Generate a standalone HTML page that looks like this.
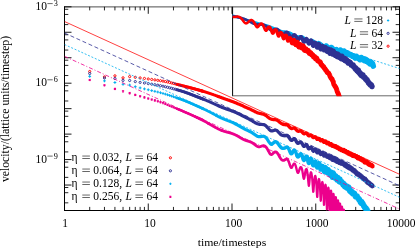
<!DOCTYPE html>
<html><head><meta charset="utf-8"><title>velocity decay</title>
<style>html,body{margin:0;padding:0;background:#fff;}svg{display:block;will-change:transform;}</style></head>
<body>
<svg width="415" height="250" viewBox="0 0 415 250">
<defs>
<clipPath id="cm"><rect x="64.5" y="6.8" width="335" height="203.7"/></clipPath>
<clipPath id="ci"><rect x="232.6" y="6.8" width="167.4" height="89.5"/></clipPath>
<clipPath id="cx"><path d="M64.5 6.8H232.6V95.8H400V211.1H64.5Z"/></clipPath>
</defs>
<rect width="415" height="250" fill="#fff"/>
<g stroke="#000" fill="none">
<path d="M64.5 6.4V211M399.5 6.4V211" stroke-width="1"/>
<path d="M64 6.9H400" stroke-width="0.7"/>
<path d="M64 210.5H400" stroke-width="1"/>
<path d="M232.6 6.8V95.8" stroke-width="1"/>
<path d="M232.1 95.8H399.5" stroke-width="0.6"/>
<path d="M148.25 210.5v-7M148.25 6.8v7M232 210.5v-7M232 6.8v7M315.75 210.5v-7M315.75 6.8v7M64.5 6.8h7M399.5 6.8h-7M64.5 32.26h7M399.5 32.26h-7M64.5 57.72h7M399.5 57.72h-7M64.5 83.19h7M399.5 83.19h-7M64.5 108.65h7M399.5 108.65h-7M64.5 134.11h7M399.5 134.11h-7M64.5 159.57h7M399.5 159.57h-7M64.5 185.04h7M399.5 185.04h-7" stroke-width="0.9"/>
<path d="M89.71 210.5v-3.6M89.71 6.8v3.6M104.46 210.5v-3.6M104.46 6.8v3.6M114.92 210.5v-3.6M114.92 6.8v3.6M123.04 210.5v-3.6M123.04 6.8v3.6M129.67 210.5v-3.6M129.67 6.8v3.6M135.28 210.5v-3.6M135.28 6.8v3.6M140.13 210.5v-3.6M140.13 6.8v3.6M144.42 210.5v-3.6M144.42 6.8v3.6M173.46 210.5v-3.6M173.46 6.8v3.6M188.21 210.5v-3.6M188.21 6.8v3.6M198.67 210.5v-3.6M198.67 6.8v3.6M206.79 210.5v-3.6M206.79 6.8v3.6M213.42 210.5v-3.6M213.42 6.8v3.6M219.03 210.5v-3.6M219.03 6.8v3.6M223.88 210.5v-3.6M223.88 6.8v3.6M228.17 210.5v-3.6M228.17 6.8v3.6M257.21 210.5v-3.6M257.21 6.8v3.6M271.96 210.5v-3.6M271.96 6.8v3.6M282.42 210.5v-3.6M282.42 6.8v3.6M290.54 210.5v-3.6M290.54 6.8v3.6M297.17 210.5v-3.6M297.17 6.8v3.6M302.78 210.5v-3.6M302.78 6.8v3.6M307.63 210.5v-3.6M307.63 6.8v3.6M311.92 210.5v-3.6M311.92 6.8v3.6M340.96 210.5v-3.6M340.96 6.8v3.6M355.71 210.5v-3.6M355.71 6.8v3.6M366.17 210.5v-3.6M366.17 6.8v3.6M374.29 210.5v-3.6M374.29 6.8v3.6M380.92 210.5v-3.6M380.92 6.8v3.6M386.53 210.5v-3.6M386.53 6.8v3.6M391.38 210.5v-3.6M391.38 6.8v3.6M395.67 210.5v-3.6M395.67 6.8v3.6M64.5 9.27h3.8M399.5 9.27h-3.8M64.5 14.46h3.8M399.5 14.46h-3.8M64.5 24.6h3.8M399.5 24.6h-3.8M64.5 34.73h3.8M399.5 34.73h-3.8M64.5 39.93h3.8M399.5 39.93h-3.8M64.5 50.06h3.8M399.5 50.06h-3.8M64.5 60.19h3.8M399.5 60.19h-3.8M64.5 65.39h3.8M399.5 65.39h-3.8M64.5 75.52h3.8M399.5 75.52h-3.8M64.5 85.66h3.8M399.5 85.66h-3.8M64.5 90.85h3.8M399.5 90.85h-3.8M64.5 100.99h3.8M399.5 100.99h-3.8M64.5 111.12h3.8M399.5 111.12h-3.8M64.5 116.31h3.8M399.5 116.31h-3.8M64.5 126.45h3.8M399.5 126.45h-3.8M64.5 136.58h3.8M399.5 136.58h-3.8M64.5 141.78h3.8M399.5 141.78h-3.8M64.5 151.91h3.8M399.5 151.91h-3.8M64.5 162.04h3.8M399.5 162.04h-3.8M64.5 167.24h3.8M399.5 167.24h-3.8M64.5 177.37h3.8M399.5 177.37h-3.8M64.5 187.51h3.8M399.5 187.51h-3.8M64.5 192.7h3.8M399.5 192.7h-3.8M64.5 202.84h3.8M399.5 202.84h-3.8" stroke-width="0.85"/>
</g>
<g clip-path="url(#cx)">
<polyline points="176.93,84.31 177.18,84.38 177.43,84.44 177.68,84.51 177.93,84.57 178.18,84.64 178.43,84.7 178.68,84.76 178.93,84.83 179.18,84.89 179.43,84.96 179.68,85.02 179.93,85.08 180.18,85.14 180.43,85.21 180.68,85.27 180.93,85.33 181.18,85.4 181.43,85.46 181.68,85.52 181.93,85.59 182.18,85.65 182.43,85.71 182.68,85.78 182.93,85.84 183.18,85.9 183.43,85.97 183.68,86.03 183.93,86.09 184.18,86.16 184.43,86.22 184.68,86.28 184.93,86.35 185.18,86.41 185.43,86.48 185.68,86.54 185.93,86.61 186.18,86.67 186.43,86.73 186.68,86.8 186.93,86.86 187.18,86.93 187.43,86.99 187.68,87.06 187.93,87.12 188.18,87.19 188.43,87.25 188.68,87.32 188.93,87.38 189.18,87.45 189.43,87.51 189.68,87.58 189.93,87.65 190.18,87.71 190.43,87.78 190.68,87.84 190.93,87.91 191.18,87.98 191.43,88.04 191.68,88.11 191.93,88.18 192.18,88.24 192.43,88.31 192.68,88.38 192.93,88.44 193.18,88.51 193.43,88.58 193.68,88.65 193.93,88.71 194.18,88.78 194.43,88.85 194.68,88.92 194.93,88.99 195.18,89.05 195.43,89.12 195.68,89.19 195.93,89.26 196.18,89.33 196.43,89.4 196.68,89.47 196.93,89.54 197.18,89.61 197.43,89.67 197.68,89.74 197.93,89.81 198.18,89.88 198.43,89.95 198.68,90.03 198.93,90.1 199.18,90.17 199.43,90.24 199.68,90.31 199.93,90.38 200.18,90.45 200.43,90.52 200.68,90.59 200.93,90.67 201.18,90.74 201.43,90.81" fill="none" stroke="#ff0000" stroke-width="2.71" stroke-linejoin="round" stroke-linecap="round" />
<polyline points="201.43,90.81 201.68,90.88 201.93,90.96 202.18,91.03 202.43,91.1 202.68,91.18 202.93,91.25 203.18,91.33 203.43,91.4 203.68,91.48 203.93,91.55 204.18,91.63 204.43,91.71 204.68,91.78 204.93,91.86 205.18,91.94 205.43,92.01 205.68,92.09 205.93,92.17 206.18,92.25 206.43,92.33 206.68,92.41 206.93,92.49 207.18,92.57 207.43,92.65 207.68,92.73 207.93,92.81 208.18,92.89 208.43,92.97 208.68,93.06 208.93,93.14 209.18,93.22 209.43,93.31 209.68,93.39 209.93,93.47 210.18,93.56 210.43,93.64 210.68,93.73 210.93,93.82 211.18,93.9 211.43,93.99 211.68,94.07 211.93,94.16 212.18,94.25 212.43,94.33 212.68,94.42 212.93,94.51 213.18,94.6 213.43,94.69 213.68,94.78 213.93,94.87 214.18,94.96 214.43,95.04 214.68,95.13 214.93,95.22 215.18,95.32 215.43,95.41 215.68,95.51 215.93,95.59 216.18,95.68 216.43,95.77 216.68,95.86 216.93,95.95 217.18,96.05 217.43,96.15 217.68,96.25 217.93,96.35 218.18,96.43" fill="none" stroke="#ff0000" stroke-width="2.96" stroke-linejoin="round" stroke-linecap="round" />
<polyline points="218.18,96.43 218.43,96.52 218.68,96.6 218.93,96.69 219.18,96.79 219.43,96.9 219.68,97 219.93,97.11 220.18,97.2 220.43,97.27 220.68,97.35 220.93,97.42 221.18,97.5 221.43,97.6 221.68,97.7 221.93,97.81 222.18,97.91 222.43,98.01 222.68,98.1 222.93,98.19 223.18,98.29 223.43,98.38 223.68,98.47 223.93,98.56 224.18,98.65 224.43,98.74 224.68,98.83 224.93,98.92 225.18,99 225.43,99.09 225.68,99.17 225.93,99.25 226.18,99.34 226.43,99.42 226.68,99.51 226.93,99.61 227.18,99.71 227.43,99.82 227.68,99.92 227.93,99.98 228.18,100.04 228.43,100.09 228.68,100.14 228.93,100.22 229.18,100.33 229.43,100.45 229.68,100.56 229.93,100.68 230.18,100.77 230.43,100.86 230.68,100.95 230.93,101.04 231.18,101.13 231.43,101.23 231.68,101.32 231.93,101.41 232.18,101.5 232.43,101.57 232.68,101.65 232.93,101.72 233.18,101.79 233.43,101.9 233.68,102.02 233.93,102.14 234.18,102.26 234.43,102.36 234.68,102.44 234.93,102.53 235.18,102.61 235.43,102.69 235.68,102.78 235.93,102.88 236.18,102.97 236.43,103.06 236.68,103.18 236.93,103.32 237.18,103.45 237.43,103.59 237.68,103.71 237.93,103.81 238.18,103.9 238.43,103.99 238.68,104.08 238.93,104.17 239.18,104.27 239.43,104.36 239.68,104.46 239.93,104.56 240.18,104.69 240.43,104.81 240.68,104.94 240.93,105.07 241.18,105.15 241.43,105.24 241.68,105.33 241.93,105.42 242.18,105.53 242.43,105.64 242.68,105.76 242.93,105.88 243.18,106 243.43,106.16 243.68,106.31 243.93,106.47 244.18,106.62 244.43,106.74 244.68,106.84 244.93,106.95 245.18,107.06 245.43,107.16 245.68,107.26 245.93,107.36 246.18,107.46 246.43,107.56 246.68,107.66 246.93,107.77 247.18,107.87 247.43,107.98 247.68,108.09 247.93,108.22 248.18,108.35 248.43,108.47 248.68,108.59 248.93,108.68 249.18,108.76 249.43,108.85 249.68,108.94 249.93,109.05 250.18,109.17 250.43,109.29 250.68,109.41 250.93,109.54 251.18,109.69 251.43,109.84 251.68,109.98 251.93,110.13 252.18,110.25 252.43,110.36 252.68,110.48 252.93,110.59 253.18,110.7 253.43,110.81 253.68,110.92 253.93,111.03 254.18,111.15 254.43,111.31 254.68,111.46 254.93,111.62 255.18,111.78 255.43,111.87 255.68,111.96 255.93,112.04 256.18,112.12 256.43,112.23 256.68,112.38 256.93,112.54 257.18,112.69 257.43,112.84 257.68,112.9 257.93,112.95 258.18,113.01 258.43,113.06 258.68,113.11 258.93,113.18 259.18,113.24 259.43,113.3 259.68,113.35 259.93,113.42 260.18,113.48 260.43,113.54 260.68,113.6 260.93,113.67 261.18,113.74 261.43,113.81 261.68,113.88 261.93,113.94 262.18,113.97 262.43,114.01 262.68,114.05 262.93,114.09 263.18,114.18 263.43,114.27 263.68,114.36 263.93,114.46 264.18,114.58 264.43,114.7 264.68,114.83 264.93,114.96 265.18,115.1 265.43,115.23 265.68,115.36 265.93,115.5 266.18,115.65 266.43,115.85 266.68,116.06 266.93,116.29 267.18,116.51 267.43,116.73 267.68,116.92 267.93,117.11 268.18,117.3 268.43,117.5 268.68,117.7 268.93,117.91 269.18,118.11 269.43,118.3 269.68,118.45 269.93,118.57 270.18,118.68 270.43,118.78 270.68,118.88 270.93,119 271.18,119.12 271.43,119.22 271.68,119.3 271.93,119.36 272.18,119.41 272.43,119.44 272.68,119.46 272.93,119.5 273.18,119.55 273.43,119.6 273.68,119.65 273.93,119.7 274.18,119.68 274.43,119.66 274.68,119.65 274.93,119.65 275.18,119.67 275.43,119.71 275.68,119.76 275.93,119.82 276.18,119.89 276.43,119.97 276.68,120.07 276.93,120.18 277.18,120.3 277.43,120.46 277.68,120.63 277.93,120.82 278.18,121.01 278.43,121.22 278.68,121.46 278.93,121.69 279.18,121.94 279.43,122.18 279.68,122.33 279.93,122.48 280.18,122.63 280.43,122.77 280.68,122.96 280.93,123.17 281.18,123.38 281.43,123.57 281.68,123.74 281.93,123.85 282.18,123.94 282.43,124.02 282.68,124.08 282.93,124.17 283.18,124.25 283.43,124.33" fill="none" stroke="#ff0000" stroke-width="3.22" stroke-linejoin="round" stroke-linecap="round" />
<polyline points="283.43,124.33 283.68,124.38 283.93,124.44 284.18,124.49 284.43,124.54 284.68,124.59 284.93,124.63 285.18,124.64 285.43,124.65 285.68,124.67 285.93,124.69 286.18,124.7 286.43,124.7 286.68,124.72 286.93,124.76 287.18,124.83 287.43,124.97 287.68,125.12 287.93,125.3 288.18,125.5 288.43,125.76 288.68,126.04 288.93,126.33 289.18,126.63 289.43,126.92 289.68,127.18 289.93,127.43 290.18,127.66 290.43,127.87 290.68,128.06 290.93,128.22 291.18,128.34 291.43,128.42 291.68,128.45 291.93,128.44 292.18,128.39 292.43,128.32 292.68,128.24 292.93,128.18 293.18,128.12 293.43,128.08 293.68,128.06 293.93,128.06 294.18,128.08 294.43,128.15 294.68,128.26 294.93,128.39 295.18,128.56 295.43,128.76 295.68,129 295.93,129.25 296.18,129.55 296.43,129.85 296.68,130.15 296.93,130.43 297.18,130.67 297.43,130.86 297.68,131.02 297.93,131.12 298.18,131.18 298.43,131.2 298.68,131.19 298.93,131.15 299.18,131.09 299.43,131 299.68,130.91 299.93,130.83 300.18,130.78 300.43,130.78 300.68,130.86 300.93,130.98 301.18,131.15 301.43,131.37 301.68,131.55 301.93,131.78 302.18,132.03 302.43,132.31 302.68,132.61 302.93,132.92 303.18,133.19 303.43,133.43 303.68,133.6 303.93,133.69 304.18,133.72 304.43,133.68 304.68,133.58 304.93,133.48 305.18,133.38 305.43,133.28 305.68,133.2 305.93,133.16 306.18,133.16 306.43,133.22 306.68,133.36 306.93,133.58 307.18,133.87 307.43,134.2 307.68,134.57 307.93,134.93 308.18,135.25 308.43,135.51 308.68,135.69 308.93,135.77 309.18,135.78 309.43,135.74 309.68,135.64 309.93,135.51 310.18,135.38 310.43,135.26 310.68,135.19 310.93,135.19 311.18,135.29 311.43,135.46 311.68,135.69 311.93,135.98 312.18,136.32 312.43,136.67 312.68,137.01 312.93,137.27 313.18,137.44 313.43,137.5 313.68,137.49 313.93,137.41 314.18,137.29 314.43,137.15 314.68,137.02 314.93,136.9 315.18,136.88 315.42,136.96 315.67,137.15 315.91,137.48 316.15,137.89 316.39,138.33 316.63,138.74 316.87,139.08 317.1,139.26 317.33,139.32 317.57,139.25 317.8,139.09 318.03,138.88 318.25,138.67 318.48,138.5 318.71,138.39 318.93,138.39 319.15,138.52 319.37,138.77 319.59,139.12 319.81,139.54 320.03,139.97 320.24,140.33 320.46,140.57 320.67,140.71 320.88,140.72 321.09,140.61 321.3,140.43 321.51,140.25 321.72,140.05 321.92,139.89 322.13,139.8 322.33,139.81 322.53,139.94 322.73,140.17 322.93,140.49 323.13,140.88 323.33,141.3" fill="none" stroke="#ff0000" stroke-width="3.47" stroke-linejoin="round" stroke-linecap="round" />
<polyline points="323.33,141.3 323.53,141.67 323.72,141.96 323.92,142.14 324.11,142.2 324.31,142.14 324.5,141.97 324.69,141.75 324.88,141.51 325.07,141.31 325.25,141.18 325.44,141.14 325.63,141.22 325.81,141.45 326,141.78 326.18,142.18 326.36,142.6 326.54,142.99 326.72,143.33 326.9,143.52 327.08,143.59 327.26,143.54 327.44,143.39 327.61,143.19 327.79,142.97 327.96,142.75 328.13,142.6 328.31,142.55 328.48,142.61 328.65,142.77 328.82,143.02 328.99,143.38 329.16,143.81 329.33,144.23 329.49,144.57 329.66,144.82 329.83,144.93 329.99,144.93 330.15,144.76 330.32,144.51 330.48,144.25 330.64,144.02 330.8,143.86 330.96,143.8 331.12,143.85 331.28,144.07 331.44,144.39 331.6,144.77 331.76,145.18 331.91,145.57 332.07,145.89 332.22,146.11 332.38,146.19 332.53,146.15 332.68,146.01 332.84,145.82 332.99,145.61 333.14,145.44 333.29,145.34 333.44,145.28 333.59,145.32 333.74,145.46 333.88,145.69 334.03,145.99 334.18,146.31 334.33,146.62 334.47,146.86 334.62,147.01 334.76,147.03 334.9,146.94 335.05,146.74 335.19,146.49 335.33,146.23 335.47,146 335.62,145.87 335.76,145.85 335.9,145.94 336.04,146.13 336.17,146.42 336.31,146.78 336.45,147.16 336.59,147.52 336.73,147.81 336.86,148 337,148.06 337.13,148 337.27,147.84 337.4,147.63 337.54,147.4 337.67,147.21 337.8,147.1 337.94,147.09 338.07,147.19 338.2,147.4 338.33,147.7 338.46,148.06 338.59,148.45 338.72,148.82 338.85,149.12 338.98,149.31 339.11,149.37 339.23,149.31 339.36,149.15 339.49,148.94 339.61,148.71 339.74,148.52 339.87,148.4 339.99,148.37 340.12,148.44 340.24,148.61 340.36,148.88 340.49,149.22 340.61,149.58 340.73,149.91 340.85,150.19 340.98,150.35 341.1,150.41 341.22,150.35 341.34,150.19 341.46,149.97 341.58,149.74 341.7,149.55 341.82,149.42 341.94,149.4 342.05,149.48 342.17,149.64 342.29,149.85 342.41,150.13 342.52,150.43 342.64,150.71 342.76,150.92 342.87,151.03 342.99,151.01 343.1,150.88" fill="none" stroke="#ff0000" stroke-width="3.72" stroke-linejoin="round" stroke-linecap="round" />
<polyline points="343.1,150.88 343.22,150.64 343.33,150.4 343.44,150.16 343.56,149.95 343.67,149.81 343.78,149.76 343.9,149.83 344.01,150 344.12,150.26 344.23,150.59 344.34,150.94 344.45,151.29 344.56,151.57 344.67,151.75 344.78,151.81 344.89,151.75 345,151.59 345.11,151.38 345.22,151.15 345.33,150.96 345.43,150.84 345.54,150.79 345.65,150.85 345.75,151.01 345.86,151.26 345.97,151.58 346.07,151.92 346.18,152.24 346.28,152.5 346.39,152.65 346.49,152.68 346.6,152.61 346.7,152.45 346.8,152.24 346.91,152.01 347.01,151.82 347.11,151.7 347.22,151.67 347.32,151.75 347.42,151.93 347.52,152.2 347.62,152.53 347.73,152.88 347.83,153.2 347.93,153.46 348.03,153.61 348.13,153.65 348.23,153.57 348.33,153.4 348.43,153.18 348.52,152.94 348.62,152.74 348.72,152.6 348.82,152.56 348.92,152.62 349.01,152.78 349.11,153.03 349.21,153.34 349.31,153.67 349.4,153.99 349.5,154.24 349.6,154.39 349.69,154.42 349.79,154.34 349.88,154.16 349.98,153.93 350.07,153.68 350.17,153.46 350.26,153.32 350.35,153.26 350.45,153.3 350.54,153.45 350.64,153.68 350.73,153.97 350.82,154.28 350.91,154.58 351.01,154.83 351.1,154.98 351.19,155.03 351.28,154.96 351.37,154.8 351.46,154.59 351.56,154.37 351.65,154.19 351.74,154.07 351.83,154.03 351.92,154.1 352.01,154.27 352.1,154.51 352.19,154.82 352.28,155.15 352.36,155.46 352.45,155.71 352.54,155.86 352.63,155.91 352.72,155.84 352.81,155.68 352.89,155.48 352.98,155.26 353.07,155.08 353.16,154.95 353.24,154.87 353.33,154.9 353.42,155.02 353.5,155.22 353.59,155.48 353.67,155.77 353.76,156.03 353.85,156.23 353.93,156.34 354.02,156.34 354.1,156.24 354.18,156.05 354.27,155.81 354.35,155.57 354.44,155.36 354.52,155.22 354.61,155.15 354.69,155.19 354.77,155.32 354.86,155.53 354.94,155.79 355.02,156.08 355.1,156.34 355.19,156.55 355.27,156.66 355.35,156.68 355.43,156.61 355.51,156.46 355.59,156.25 355.68,156.04 355.76,155.85 355.84,155.73 355.92,155.69 356,155.75 356.08,155.89 356.16,156.12 356.24,156.39 356.32,156.69 356.4,156.97 356.48,157.21 356.56,157.39 356.64,157.45 356.72,157.42 356.79,157.3 356.87,157.14 356.95,156.97 357.03,156.83 357.11,156.74 357.19,156.74" fill="none" stroke="#ff0000" stroke-width="3.97" stroke-linejoin="round" stroke-linecap="round" />
<polyline points="357.19,156.74 357.26,156.83 357.34,157.01 357.42,157.26 357.5,157.57 357.57,157.85 357.65,158.08 357.73,158.26 357.8,158.35 357.88,158.34 357.96,158.24 358.03,158.05 358.11,157.82 358.18,157.58 358.26,157.37 358.34,157.21 358.41,157.14 358.49,157.15 358.56,157.25 358.64,157.43 358.71,157.7 358.79,157.99 358.86,158.27 358.93,158.49 359.01,158.62 359.08,158.66 359.16,158.61 359.23,158.48 359.3,158.3 359.38,158.12 359.45,157.96 359.52,157.86 359.6,157.83 359.67,157.89 359.74,158.03 359.81,158.23 359.89,158.47 359.96,158.73 360.03,158.98 360.1,159.17 360.17,159.28 360.25,159.29 360.32,159.22 360.39,159.07 360.46,158.87 360.53,158.67 360.6,158.49 360.67,158.37 360.74,158.32 360.81,158.36 360.88,158.51 360.95,158.74 361.02,159.01 361.09,159.31 361.16,159.59 361.23,159.81 361.3,159.96 361.37,160.02 361.44,159.99 361.51,159.88 361.58,159.74 361.65,159.58 361.72,159.45 361.79,159.37 361.86,159.37 361.92,159.45 361.99,159.54 362.06,159.7 362.13,159.9 362.2,160.12 362.26,160.33 362.33,160.48 362.4,160.56 362.47,160.55 362.53,160.45 362.6,160.29 362.67,160.08 362.73,159.87 362.8,159.68 362.87,159.54 362.93,159.47 363,159.48 363.07,159.62 363.13,159.86 363.2,160.15 363.27,160.46 363.33,160.74 363.4,160.98 363.46,161.15 363.53,161.23 363.59,161.23 363.66,161.17 363.72,161.06 363.79,160.94 363.85,160.85 363.92,160.81 363.98,160.83 364.05,160.93 364.11,161.11 364.18,161.3 364.24,161.52 364.3,161.76 364.37,161.98 364.43,162.16 364.5,162.26 364.56,162.29 364.62,162.23 364.69,162.11 364.75,161.95 364.81,161.78 364.88,161.63 364.94,161.53 365,161.5 365.06,161.54 365.13,161.65 365.19,161.83 365.25,162.02 365.31,162.2 365.38,162.37 365.44,162.49 365.5,162.54 365.56,162.51 365.62,162.4 365.69,162.23 365.75,162.02 365.81,161.81 365.87,161.62 365.93,161.47 365.99,161.39 366.05,161.38 366.12,161.43 366.18,161.55 366.24,161.71 366.3,161.88 366.36,162.07 366.42,162.23 366.48,162.33 366.54,162.36 366.6,162.31 366.66,162.2 366.72,162.05 366.78,161.9 366.84,161.77 366.9,161.68 366.96,161.65 367.02,161.69 367.08,161.8 367.14,161.97 367.2,162.17 367.25,162.39 367.31,162.6 367.37,162.76 367.43,162.86 367.49,162.94 367.55,162.95 367.61,162.9 367.67,162.81 367.72,162.72 367.78,162.65 367.84,162.62 367.9,162.65 367.96,162.74 368.01,162.91 368.07,163.12 368.13,163.38 368.19,163.65 368.24,163.9 368.3,164.11 368.36,164.26 368.42,164.34 368.47,164.35 368.53,164.31 368.59,164.15" fill="none" stroke="#ff0000" stroke-width="4.22" stroke-linejoin="round" stroke-linecap="round" />
<polyline points="368.59,164.15 368.64,163.99 368.7,163.85 368.76,163.75 368.81,163.71 368.87,163.73 368.93,163.82 368.98,163.96 369.04,164.13 369.1,164.32 369.15,164.49 369.21,164.62 369.26,164.7 369.32,164.71 369.38,164.65 369.43,164.53 369.49,164.39 369.54,164.23 369.6,164.1 369.65,164.01 369.71,164 369.76,164.05 369.82,164.16 369.87,164.32 369.93,164.52 369.98,164.73 370.04,164.92 370.09,165.08 370.15,165.18 370.2,165.21 370.26,165.18 370.31,165.1 370.36,164.99 370.42,164.87 370.47,164.77 370.53,164.71 370.58,164.7 370.63,164.75 370.69,164.86 370.74,165.01 370.8,165.16 370.85,165.32 370.9,165.47 370.96,165.58 371.01,165.64 371.06,165.64 371.11,165.57 371.17,165.45 371.22,165.31 371.27,165.15 371.33,165.02 371.38,164.92 371.43,164.87 371.48,164.88 371.54,164.95 371.59,165.06 371.64,165.21 371.69,165.36 371.75,165.51 371.8,165.62 371.85,165.71 371.9,165.79 371.95,165.81 372.01,165.79 372.06,165.73 372.11,165.67 372.16,165.62 372.21,165.61 372.26,165.65 372.32,165.74 372.37,165.89 372.42,166.09 372.47,166.32" fill="none" stroke="#ff0000" stroke-width="4.39" stroke-linejoin="round" stroke-linecap="round" />
</g>
<g clip-path="url(#cx)">
<polyline points="176.93,89.75 177.18,89.82 177.43,89.89 177.68,89.96 177.93,90.04 178.18,90.11 178.43,90.18 178.68,90.25 178.93,90.33 179.18,90.4 179.43,90.48 179.68,90.55 179.93,90.62 180.18,90.7 180.43,90.77 180.68,90.85 180.93,90.92 181.18,91 181.43,91.07 181.68,91.15 181.93,91.23 182.18,91.3 182.43,91.38 182.68,91.45 182.93,91.53 183.18,91.61 183.43,91.69 183.68,91.77 183.93,91.85 184.18,91.93 184.43,92.02 184.68,92.1 184.93,92.18 185.18,92.27 185.43,92.35 185.68,92.44 185.93,92.53 186.18,92.61 186.43,92.7 186.68,92.79 186.93,92.88 187.18,92.97 187.43,93.06 187.68,93.15 187.93,93.24 188.18,93.33 188.43,93.42 188.68,93.52 188.93,93.61 189.18,93.7 189.43,93.8 189.68,93.89 189.93,93.99 190.18,94.08 190.43,94.18 190.68,94.27 190.93,94.37 191.18,94.46 191.43,94.56 191.68,94.66 191.93,94.75 192.18,94.85 192.43,94.95 192.68,95.05 192.93,95.14 193.18,95.24 193.43,95.34 193.68,95.44 193.93,95.54 194.18,95.63 194.43,95.73 194.68,95.83 194.93,95.93 195.18,96.03 195.43,96.13 195.68,96.22 195.93,96.32 196.18,96.42 196.43,96.52 196.68,96.62 196.93,96.71 197.18,96.81 197.43,96.91 197.68,97.01 197.93,97.1 198.18,97.2 198.43,97.3 198.68,97.39 198.93,97.49 199.18,97.59 199.43,97.68 199.68,97.78 199.93,97.87 200.18,97.97 200.43,98.06 200.68,98.16 200.93,98.25 201.18,98.35 201.43,98.45" fill="none" stroke="#2e3192" stroke-width="2.71" stroke-linejoin="round" stroke-linecap="round" />
<polyline points="201.43,98.45 201.68,98.54 201.93,98.64 202.18,98.74 202.43,98.83 202.68,98.93 202.93,99.03 203.18,99.13 203.43,99.23 203.68,99.33 203.93,99.43 204.18,99.53 204.43,99.63 204.68,99.73 204.93,99.83 205.18,99.93 205.43,100.03 205.68,100.14 205.93,100.24 206.18,100.34 206.43,100.45 206.68,100.55 206.93,100.66 207.18,100.76 207.43,100.87 207.68,100.97 207.93,101.08 208.18,101.18 208.43,101.29 208.68,101.4 208.93,101.51 209.18,101.62 209.43,101.73 209.68,101.83 209.93,101.94 210.18,102.05 210.43,102.17 210.68,102.28 210.93,102.39 211.18,102.5 211.43,102.61 211.68,102.72 211.93,102.84 212.18,102.95 212.43,103.06 212.68,103.18 212.93,103.29 213.18,103.4 213.43,103.52 213.68,103.63 213.93,103.75 214.18,103.87 214.43,103.98 214.68,104.1 214.93,104.21 215.18,104.32 215.43,104.44 215.68,104.55 215.93,104.67 216.18,104.79 216.43,104.9 216.68,105.02 216.93,105.13 217.18,105.23 217.43,105.33 217.68,105.43 217.93,105.54 218.18,105.65" fill="none" stroke="#2e3192" stroke-width="2.96" stroke-linejoin="round" stroke-linecap="round" />
<polyline points="218.18,105.65 218.43,105.76 218.68,105.88 218.93,105.99 219.18,106.11 219.43,106.23 219.68,106.35 219.93,106.47 220.18,106.58 220.43,106.67 220.68,106.77 220.93,106.86 221.18,106.95 221.43,107.07 221.68,107.18 221.93,107.3 222.18,107.41 222.43,107.51 222.68,107.6 222.93,107.69 223.18,107.78 223.43,107.87 223.68,107.96 223.93,108.05 224.18,108.13 224.43,108.22 224.68,108.32 224.93,108.42 225.18,108.52 225.43,108.62 225.68,108.72 225.93,108.83 226.18,108.93 226.43,109.03 226.68,109.13 226.93,109.2 227.18,109.26 227.43,109.33 227.68,109.39 227.93,109.48 228.18,109.57 228.43,109.67 228.68,109.76 228.93,109.85 229.18,109.92 229.43,110 229.68,110.08 229.93,110.15 230.18,110.24 230.43,110.33 230.68,110.42 230.93,110.5 231.18,110.61 231.43,110.73 231.68,110.85 231.93,110.97 232.18,111.08 232.43,111.15 232.68,111.22 232.93,111.3 233.18,111.38 233.43,111.46 233.68,111.54 233.93,111.63 234.18,111.72 234.43,111.82 234.68,111.95 234.93,112.07 235.18,112.2 235.43,112.33 235.68,112.42 235.93,112.53 236.18,112.63 236.43,112.73 236.68,112.85 236.93,112.98 237.18,113.12 237.43,113.26 237.68,113.39 237.93,113.49 238.18,113.59 238.43,113.7 238.68,113.81 238.93,113.92 239.18,114.04 239.43,114.16 239.68,114.27 239.93,114.4 240.18,114.55 240.43,114.7 240.68,114.84 240.93,114.99 241.18,115.11 241.43,115.23 241.68,115.35 241.93,115.47 242.18,115.6 242.43,115.74 242.68,115.88 242.93,116.02 243.18,116.16 243.43,116.28 243.68,116.4 243.93,116.52 244.18,116.65 244.43,116.76 244.68,116.88 244.93,117 245.18,117.11 245.43,117.24 245.68,117.37 245.93,117.5 246.18,117.63 246.43,117.76 246.68,117.89 246.93,118.02 247.18,118.15 247.43,118.29 247.68,118.4 247.93,118.51 248.18,118.62 248.43,118.72 248.68,118.84 248.93,119 249.18,119.15 249.43,119.31 249.68,119.47 249.93,119.62 250.18,119.76 250.43,119.9 250.68,120.05 250.93,120.18 251.18,120.29 251.43,120.4 251.68,120.51 251.93,120.63 252.18,120.81 252.43,120.99 252.68,121.17 252.93,121.36 253.18,121.52 253.43,121.66 253.68,121.8 253.93,121.95 254.18,122.09 254.43,122.26 254.68,122.43 254.93,122.59 255.18,122.75 255.43,122.88 255.68,123 255.93,123.12 256.18,123.23 256.43,123.34 256.68,123.45 256.93,123.55 257.18,123.64 257.43,123.73 257.68,123.81 257.93,123.89 258.18,123.96 258.43,124.02 258.68,124.09 258.93,124.17 259.18,124.24 259.43,124.31 259.68,124.36 259.93,124.35 260.18,124.33 260.43,124.32 260.68,124.29 260.93,124.32 261.18,124.37 261.43,124.41 261.68,124.45 261.93,124.48 262.18,124.49 262.43,124.5 262.68,124.52 262.93,124.55 263.18,124.57 263.43,124.59 263.68,124.63 263.93,124.68 264.18,124.76 264.43,124.86 264.68,124.97 264.93,125.1 265.18,125.25 265.43,125.46 265.68,125.68 265.93,125.92 266.18,126.17 266.43,126.41 266.68,126.67 266.93,126.94 267.18,127.22 267.43,127.48 267.68,127.72 267.93,127.97 268.18,128.22 268.43,128.46 268.68,128.77 268.93,129.08 269.18,129.37 269.43,129.65 269.68,129.91 269.93,130.14 270.18,130.36 270.43,130.54 270.68,130.7 270.93,130.79 271.18,130.86 271.43,130.89 271.68,130.9 271.93,130.9 272.18,130.88 272.43,130.84 272.68,130.78 272.93,130.72 273.18,130.65 273.43,130.59 273.68,130.52 273.93,130.46 274.18,130.34 274.43,130.22 274.68,130.13 274.93,130.05 275.18,130.04 275.43,130.09 275.68,130.16 275.93,130.25 276.18,130.36 276.43,130.45 276.68,130.57 276.93,130.71 277.18,130.87 277.43,131.07 277.68,131.3 277.93,131.54 278.18,131.8 278.43,132.06 278.68,132.33 278.93,132.61 279.18,132.88 279.43,133.16 279.68,133.45 279.93,133.73 280.18,134 280.43,134.26 280.68,134.48 280.93,134.67 281.18,134.84 281.43,135 281.68,135.13 281.93,135.21 282.18,135.27 282.43,135.32 282.68,135.35 282.93,135.44 283.18,135.54 283.43,135.63 283.68,135.7 283.93,135.73 284.18,135.71 284.43,135.68 284.68,135.65 284.93,135.6" fill="none" stroke="#2e3192" stroke-width="3.22" stroke-linejoin="round" stroke-linecap="round" />
<polyline points="284.93,135.6 285.18,135.58 285.43,135.55 285.68,135.53 285.93,135.52 286.18,135.49 286.43,135.47 286.68,135.47 286.93,135.49 287.18,135.55 287.43,135.69 287.68,135.87 287.93,136.08 288.18,136.34 288.43,136.63 288.68,136.95 288.93,137.3 289.18,137.69 289.43,138.07 289.68,138.44 289.93,138.81 290.18,139.15 290.43,139.46 290.68,139.78 290.93,140.03 291.18,140.21 291.43,140.3 291.68,140.31 291.93,140.24 292.18,140.11 292.43,139.94 292.68,139.73 292.93,139.49 293.18,139.27 293.43,139.07 293.68,138.93 293.93,138.82 294.18,138.77 294.43,138.8 294.68,138.91 294.93,139.11 295.18,139.44 295.43,139.82 295.68,140.26 295.93,140.74 296.18,141.17 296.43,141.6 296.68,142.02 296.93,142.39 297.18,142.72 297.43,142.98 297.68,143.16 297.93,143.25 298.18,143.25 298.43,143.18 298.68,143.05 298.93,142.88 299.18,142.69 299.43,142.55 299.68,142.44 299.93,142.37 300.18,142.33 300.43,142.32 300.68,142.31 300.93,142.37 301.18,142.5 301.43,142.7 301.68,142.96 301.93,143.28 302.18,143.66 302.43,144.08 302.68,144.56 302.93,145.07 303.18,145.54 303.43,145.95 303.68,146.25 303.93,146.38 304.18,146.38 304.43,146.25 304.68,146.02 304.93,145.74 305.18,145.44 305.43,145.14 305.68,144.9 305.93,144.73 306.18,144.65 306.43,144.69 306.68,144.87 306.93,145.18 307.18,145.68 307.43,146.27 307.68,146.93 307.93,147.59 308.18,148.14 308.43,148.55 308.68,148.79 308.93,148.85 309.18,148.75 309.43,148.59 309.68,148.33 309.93,148.02 310.18,147.73 310.43,147.45 310.68,147.26 310.93,147.21 311.18,147.3 311.43,147.53 311.68,147.88 311.93,148.35 312.18,148.9 312.43,149.47 312.68,150.13 312.93,150.66 313.18,151.02 313.43,151.16 313.68,151.02 313.93,150.66 314.18,150.21 314.43,149.75 314.68,149.34 314.93,149.03 315.18,148.9 315.42,148.95 315.67,149.19 315.91,149.67 316.15,150.3 316.39,150.98" fill="none" stroke="#2e3192" stroke-width="3.47" stroke-linejoin="round" stroke-linecap="round" />
<polyline points="316.39,150.98 316.63,151.65 316.87,152.2 317.1,152.58 317.33,152.72 317.57,152.61 317.8,152.32 318.03,151.92 318.25,151.5 318.48,151.16 318.71,150.95 318.93,150.91 319.15,151.02 319.37,151.28 319.59,151.71 319.81,152.26 320.03,152.87 320.24,153.49 320.46,154.01 320.67,154.33 320.88,154.4 321.09,154.23 321.3,153.9 321.51,153.5 321.72,153.08 321.92,152.75 322.13,152.55 322.33,152.52 322.53,152.56 322.73,152.79 322.93,153.18 323.13,153.7 323.33,154.28 323.53,154.89 323.72,155.45 323.92,155.81 324.11,155.93 324.31,155.82 324.5,155.52 324.69,155.06 324.88,154.58 325.07,154.17 325.25,153.9 325.44,153.79 325.63,153.88 325.81,154.12 326,154.53 326.18,155.06 326.36,155.64 326.54,156.2 326.72,156.63 326.9,157.01 327.08,157.15 327.26,157.06 327.44,156.8 327.61,156.44 327.79,156.07 327.96,155.72 328.13,155.47 328.31,155.39 328.48,155.5 328.65,155.79 328.82,156.24 328.99,156.78 329.16,157.33 329.33,157.85 329.49,158.25 329.66,158.47 329.83,158.46 329.99,158.22 330.15,157.87 330.32,157.45 330.48,157.02" fill="none" stroke="#2e3192" stroke-width="3.72" stroke-linejoin="round" stroke-linecap="round" />
<polyline points="330.48,157.02 330.64,156.65 330.8,156.42 330.96,156.34 331.12,156.45 331.28,156.78 331.44,157.27 331.6,157.87 331.76,158.51 331.91,159.13 332.07,159.64 332.22,159.97 332.38,159.96 332.53,159.73 332.68,159.33 332.84,158.85 332.99,158.36 333.14,157.93 333.29,157.63 333.44,157.54 333.59,157.65 333.74,157.93 333.88,158.35 334.03,158.89 334.18,159.46 334.33,160.02 334.47,160.45 334.62,160.68 334.76,160.7 334.9,160.51 335.05,160.17 335.19,159.74 335.33,159.31 335.47,158.94 335.62,158.75 335.76,158.74 335.9,158.9 336.04,159.23 336.17,159.7 336.31,160.26 336.45,160.88 336.59,161.46 336.73,161.85 336.86,162.03 337,162.01 337.13,161.8 337.27,161.44 337.4,160.99 337.54,160.54 337.67,160.15 337.8,159.93 337.94,159.9 338.07,160.03 338.2,160.32 338.33,160.74 338.46,161.27 338.59,161.83 338.72,162.36 338.85,162.79 338.98,163.01 339.11,163.04 339.23,162.88 339.36,162.57 339.49,162.19 339.61,161.8 339.74,161.47 339.87,161.24 339.99,161.16 340.12,161.24 340.24,161.47 340.36,161.83 340.49,162.28 340.61,162.77 340.73,163.23 340.85,163.6 340.98,163.82 341.1,163.84 341.22,163.66 341.34,163.35 341.46,162.97 341.58,162.58 341.7,162.24 341.82,162 341.94,161.89 342.05,161.94 342.17,162.14 342.29,162.48 342.41,162.91 342.52,163.38 342.64,163.82 342.76,164.17 342.87,164.38 342.99,164.41 343.1,164.28 343.22,164.01 343.33,163.73 343.44,163.44 343.56,163.2 343.67,163.06 343.78,163.05 343.9,163.19 344.01,163.46 344.12,163.85 344.23,164.32 344.34,164.82 344.45,165.2 344.56,165.49 344.67,165.65 344.78,165.63 344.89,165.46 345,165.16 345.11,164.8 345.22,164.42 345.33,164.09 345.43,163.86 345.54,163.81 345.65,163.91 345.75,164.14 345.86,164.48 345.97,164.91 346.07,165.37 346.18,165.8 346.28,166.15 346.39,166.37" fill="none" stroke="#2e3192" stroke-width="3.97" stroke-linejoin="round" stroke-linecap="round" />
<polyline points="346.39,166.37 346.49,166.43 346.6,166.37 346.7,166.2 346.8,165.96 346.91,165.72 347.01,165.52 347.11,165.41 347.22,165.42 347.32,165.56 347.42,165.83 347.52,166.21 347.62,166.67 347.73,167.05 347.83,167.39 347.93,167.66 348.03,167.79 348.13,167.78 348.23,167.62 348.33,167.34 348.43,167 348.52,166.65 348.62,166.34 348.72,166.12 348.82,166.1 348.92,166.2 349.01,166.44 349.11,166.77 349.21,167.19 349.31,167.63 349.4,168.05 349.5,168.4 349.6,168.62 349.69,168.69 349.79,168.63 349.88,168.41 349.98,168.11 350.07,167.79 350.17,167.52 350.26,167.33 350.35,167.25 350.45,167.29 350.54,167.46 350.64,167.73 350.73,168.07 350.82,168.44 350.91,168.78 351.01,169.09 351.1,169.29 351.19,169.35 351.28,169.28 351.37,169.09 351.46,168.84 351.56,168.59 351.65,168.37 351.74,168.24 351.83,168.21 351.92,168.3 352.01,168.5 352.1,168.82 352.19,169.21 352.28,169.62 352.36,170.02 352.45,170.34 352.54,170.54 352.63,170.61 352.72,170.55 352.81,170.39 352.89,170.16 352.98,169.93 353.07,169.73 353.16,169.6 353.24,169.53 353.33,169.58 353.42,169.74 353.5,169.99 353.59,170.31 353.67,170.66 353.76,170.99 353.85,171.25 353.93,171.39 354.02,171.41 354.1,171.3 354.18,171.09 354.27,170.84 354.35,170.6 354.44,170.39 354.52,170.26 354.61,170.23 354.69,170.31 354.77,170.5 354.86,170.78 354.94,171.13 355.02,171.5 355.1,171.85 355.19,172.14 355.27,172.31 355.35,172.38 355.43,172.37 355.51,172.27 355.59,172.1 355.68,171.93 355.76,171.8 355.84,171.73 355.92,171.76 356,171.9 356.08,172.15 356.16,172.48 356.24,172.88 356.32,173.3 356.4,173.7 356.48,173.98 356.56,174.13 356.64,174.15 356.72,174.06 356.79,173.88 356.87,173.64 356.95,173.39 357.03,173.17 357.11,173.03 357.19,172.97 357.26,173.02 357.34,173.18 357.42,173.42 357.5,173.72 357.57,174.03 357.65,174.33 357.73,174.56 357.8,174.69 357.88,174.71 357.96,174.62 358.03,174.43 358.11,174.19 358.18,173.94 358.26,173.73 358.34,173.58 358.41,173.52 358.49,173.56 358.56,173.7 358.64,173.93 358.71,174.26 358.79,174.61 358.86,174.95 358.93,175.21 359.01,175.39 359.08,175.45 359.16,175.41 359.23,175.28 359.3,175.09 359.38,174.9 359.45,174.74 359.52,174.64 359.6,174.63 359.67,174.72 359.74,174.9 359.81,175.12 359.89,175.4 359.96,175.7 360.03,175.98 360.1,176.2 360.17,176.33 360.25,176.35 360.32,176.27 360.39,176.11 360.46,175.89 360.53,175.67 360.6,175.48 360.67,175.35 360.74,175.3 360.81,175.35 360.88,175.51 360.95,175.76 361.02,176.06 361.09,176.39 361.16,176.69 361.23,176.94 361.3,177.1 361.37,177.15 361.44,177.11 361.51,176.99 361.58,176.81 361.65,176.63 361.72,176.48 361.79,176.39 361.86,176.38 361.92,176.46 361.99,176.62 362.06,176.86 362.13,177.15 362.2,177.46 362.26,177.75 362.33,177.99 362.4,178.14 362.47,178.19 362.53,178.15 362.6,178.02 362.67,177.86 362.73,177.68 362.8,177.53 362.87,177.44 362.93,177.43 363,177.5 363.07,177.66 363.13,177.87 363.2,178.14 363.27,178.43 363.33,178.69 363.4,178.91 363.46,179.04 363.53,179.08 363.59,179.02 363.66,178.89 363.72,178.72 363.79,178.54 363.85,178.38" fill="none" stroke="#2e3192" stroke-width="4.22" stroke-linejoin="round" stroke-linecap="round" />
<polyline points="363.85,178.38 363.92,178.28 363.98,178.26 364.05,178.32 364.11,178.46 364.18,178.65 364.24,178.89 364.3,179.14 364.37,179.37 364.43,179.56 364.5,179.66 364.56,179.68 364.62,179.6 364.69,179.46 364.75,179.27 364.81,179.07 364.88,178.9 364.94,178.78 365,178.74 365.06,178.77 365.13,178.88 365.19,179.07 365.25,179.32 365.31,179.62 365.38,179.9 365.44,180.14 365.5,180.3 365.56,180.37 365.62,180.36 365.69,180.28 365.75,180.16 365.81,180.04 365.87,179.93 365.93,179.88 365.99,179.89 366.05,179.99 366.12,180.16 366.18,180.39 366.24,180.67 366.3,180.96 366.36,181.23 366.42,181.44 366.48,181.58 366.54,181.64 366.6,181.62 366.66,181.53 366.72,181.4 366.78,181.26 366.84,181.15 366.9,181.08 366.96,181.08 367.02,181.16 367.08,181.31 367.14,181.52 367.2,181.78 367.25,182.04 367.31,182.29 367.37,182.5 367.43,182.64 367.49,182.66 367.55,182.61 367.61,182.5 367.67,182.35 367.72,182.19 367.78,182.05 367.84,181.96 367.9,181.93 367.96,181.98 368.01,182.09 368.07,182.27 368.13,182.48 368.19,182.71 368.24,182.92 368.3,183.09 368.36,183.2 368.42,183.22 368.47,183.18 368.53,183.07 368.59,182.93 368.64,182.77 368.7,182.64 368.76,182.56 368.81,182.53 368.87,182.58 368.93,182.69 368.98,182.86 369.04,183.06 369.1,183.28 369.15,183.49 369.21,183.65 369.26,183.75 369.32,183.78 369.38,183.73 369.43,183.63 369.49,183.49 369.54,183.35 369.6,183.23 369.65,183.16 369.71,183.16 369.76,183.23 369.82,183.37 369.87,183.56 369.93,183.78 369.98,184.02 370.04,184.24 370.09,184.43 370.15,184.55 370.2,184.61 370.26,184.59 370.31,184.52 370.36,184.42 370.42,184.31 370.47,184.22 370.53,184.17 370.58,184.18 370.63,184.25 370.69,184.38 370.74,184.55 370.8,184.73 370.85,184.92 370.9,185.09 370.96,185.23 371.01,185.31 371.06,185.32 371.11,185.27 371.17,185.16 371.22,185.03 371.27,184.88 371.33,184.76 371.38,184.67 371.43,184.64 371.48,184.67 371.54,184.76 371.59,184.89 371.64,185.06 371.69,185.24 371.75,185.41 371.8,185.54 371.85,185.64 371.9,185.72 371.95,185.73 372.01,185.69 372.06,185.63 372.11,185.55 372.16,185.49 372.21,185.47 372.26,185.51 372.32,185.59 372.37,185.74 372.42,185.93 372.47,186.16" fill="none" stroke="#2e3192" stroke-width="4.4" stroke-linejoin="round" stroke-linecap="round" />
</g>
<g clip-path="url(#cx)">
<polyline points="176.93,97.9 177.18,97.98 177.43,98.07 177.68,98.16 177.93,98.25 178.18,98.34 178.43,98.42 178.68,98.51 178.93,98.6 179.18,98.69 179.43,98.78 179.68,98.87 179.93,98.96 180.18,99.05 180.43,99.14 180.68,99.23 180.93,99.32 181.18,99.41 181.43,99.51 181.68,99.6 181.93,99.69 182.18,99.78 182.43,99.87 182.68,99.97 182.93,100.06 183.18,100.15 183.43,100.25 183.68,100.34 183.93,100.44 184.18,100.54 184.43,100.63 184.68,100.73 184.93,100.83 185.18,100.93 185.43,101.03 185.68,101.13 185.93,101.23 186.18,101.33 186.43,101.43 186.68,101.54 186.93,101.64 187.18,101.74 187.43,101.85 187.68,101.95 187.93,102.05 188.18,102.16 188.43,102.26 188.68,102.37 188.93,102.48 189.18,102.58 189.43,102.69 189.68,102.8 189.93,102.91 190.18,103.01 190.43,103.12 190.68,103.23 190.93,103.34 191.18,103.45 191.43,103.56 191.68,103.67 191.93,103.78 192.18,103.89 192.43,104 192.68,104.11 192.93,104.22 193.18,104.33 193.43,104.45 193.68,104.56 193.93,104.67 194.18,104.78 194.43,104.89 194.68,105.01 194.93,105.12 195.18,105.23 195.43,105.34 195.68,105.46 195.93,105.57 196.18,105.68 196.43,105.79 196.68,105.91 196.93,106.02 197.18,106.13 197.43,106.24 197.68,106.36 197.93,106.47 198.18,106.58 198.43,106.69 198.68,106.81 198.93,106.92 199.18,107.03 199.43,107.14 199.68,107.25 199.93,107.36 200.18,107.48 200.43,107.59 200.68,107.7 200.93,107.81 201.18,107.93 201.43,108.04 201.68,108.15 201.93,108.27 202.18,108.38" fill="none" stroke="#00aeef" stroke-width="2.42" stroke-linejoin="round" stroke-linecap="round" />
<polyline points="202.18,108.38 202.43,108.5 202.68,108.61 202.93,108.73 203.18,108.84 203.43,108.96 203.68,109.07 203.93,109.19 204.18,109.31 204.43,109.43 204.68,109.55 204.93,109.67 205.18,109.79 205.43,109.91 205.68,110.03 205.93,110.15 206.18,110.27 206.43,110.39 206.68,110.51 206.93,110.64 207.18,110.76 207.43,110.88 207.68,111.01 207.93,111.13 208.18,111.26 208.43,111.38 208.68,111.51 208.93,111.64 209.18,111.76 209.43,111.89 209.68,112.02 209.93,112.15 210.18,112.28 210.43,112.41 210.68,112.54 210.93,112.67 211.18,112.8 211.43,112.93 211.68,113.06 211.93,113.19 212.18,113.32 212.43,113.45 212.68,113.58 212.93,113.72 213.18,113.85 213.43,113.98 213.68,114.11 213.93,114.24 214.18,114.38 214.43,114.51 214.68,114.64 214.93,114.77 215.18,114.91 215.43,115.04 215.68,115.17 215.93,115.3 216.18,115.43 216.43,115.56" fill="none" stroke="#00aeef" stroke-width="2.67" stroke-linejoin="round" stroke-linecap="round" />
<polyline points="216.43,115.56 216.68,115.69 216.93,115.82 217.18,115.95 217.43,116.08 217.68,116.21 217.93,116.34 218.18,116.46 218.43,116.59 218.68,116.71 218.93,116.84 219.18,116.96 219.43,117.09 219.68,117.21 219.93,117.33 220.18,117.45 220.43,117.57 220.68,117.69 220.93,117.81 221.18,117.92 221.43,118.04 221.68,118.15 221.93,118.26 222.18,118.38 222.43,118.49 222.68,118.6 222.93,118.71 223.18,118.82 223.43,118.92 223.68,119.03 223.93,119.13 224.18,119.24 224.43,119.34 224.68,119.44 224.93,119.54 225.18,119.64 225.43,119.74 225.68,119.84 225.93,119.94 226.18,120.03 226.43,120.13 226.68,120.23 226.93,120.32 227.18,120.42 227.43,120.51 227.68,120.6 227.93,120.7 228.18,120.79 228.43,120.89 228.68,120.98 228.93,121.07 229.18,121.17 229.43,121.26 229.68,121.36 229.93,121.45 230.18,121.55 230.43,121.65 230.68,121.75 230.93,121.85 231.18,121.95 231.43,122.05 231.68,122.15 231.93,122.25 232.18,122.36 232.43,122.46 232.68,122.57 232.93,122.68 233.18,122.79 233.43,122.91 233.68,123.02 233.93,123.14 234.18,123.26 234.43,123.38 234.68,123.49 234.93,123.61 235.18,123.72" fill="none" stroke="#00aeef" stroke-width="2.93" stroke-linejoin="round" stroke-linecap="round" />
<polyline points="235.18,123.72 235.43,123.84 235.68,123.97 235.93,124.1 236.18,124.24 236.43,124.38 236.68,124.51 236.93,124.65 237.18,124.79 237.43,124.94 237.68,125.08 237.93,125.22 238.18,125.35 238.43,125.49 238.68,125.63 238.93,125.78 239.18,125.93 239.43,126.08 239.68,126.24 239.93,126.39 240.18,126.53 240.43,126.68 240.68,126.82 240.93,126.96 241.18,127.1 241.43,127.24 241.68,127.37 241.93,127.51 242.18,127.65 242.43,127.79 242.68,127.94 242.93,128.08 243.18,128.22 243.43,128.36 243.68,128.49 243.93,128.62 244.18,128.75 244.43,128.89 244.68,129.03 244.93,129.17 245.18,129.31 245.43,129.45 245.68,129.57 245.93,129.69 246.18,129.81 246.43,129.93 246.68,130.03 246.93,130.12 247.18,130.22 247.43,130.31 247.68,130.43 247.93,130.56 248.18,130.69 248.43,130.83 248.68,130.96 248.93,131.08 249.18,131.2 249.43,131.32 249.68,131.44 249.93,131.55 250.18,131.65 250.43,131.75 250.68,131.86 250.93,131.98 251.18,132.13 251.43,132.29 251.68,132.45 251.93,132.61 252.18,132.79 252.43,132.97 252.68,133.15 252.93,133.34 253.18,133.51 253.43,133.67 253.68,133.83 253.93,133.99 254.18,134.16 254.43,134.33 254.68,134.51 254.93,134.68 255.18,134.86 255.43,135.03 255.68,135.2 255.93,135.36 256.18,135.52 256.43,135.68 256.68,135.86 256.93,136.04 257.18,136.2 257.43,136.35 257.68,136.43 257.93,136.49 258.18,136.54 258.43,136.58 258.68,136.62 258.93,136.65 259.18,136.66 259.43,136.67 259.68,136.66 259.93,136.67 260.18,136.66 260.43,136.65 260.68,136.63 260.93,136.59 261.18,136.54 261.43,136.48 261.68,136.43 261.93,136.38 262.18,136.34 262.43,136.3 262.68,136.27 262.93,136.26 263.18,136.27 263.43,136.29 263.68,136.33 263.93,136.39 264.18,136.46 264.43,136.55 264.68,136.66 264.93,136.8 265.18,136.96 265.43,137.15 265.68,137.37 265.93,137.61 266.18,137.88 266.43,138.17 266.68,138.47 266.93,138.8 267.18,139.15 267.43,139.52 267.68,139.92 267.93,140.34 268.18,140.76 268.43,141.18 268.68,141.55 268.93,141.91 269.18,142.26 269.43,142.58 269.68,142.92 269.93,143.25 270.18,143.54 270.43,143.78 270.68,143.98 270.93,144.1 271.18,144.18 271.43,144.2 271.68,144.18" fill="none" stroke="#00aeef" stroke-width="3.18" stroke-linejoin="round" stroke-linecap="round" />
<polyline points="271.68,144.18 271.93,144.05 272.18,143.88 272.43,143.67 272.68,143.43 272.93,143.21 273.18,143.02 273.43,142.83 273.68,142.64 273.93,142.47 274.18,142.29 274.43,142.14 274.68,142.02 274.93,141.92 275.18,141.85 275.43,141.81 275.68,141.81 275.93,141.84 276.18,141.91 276.43,142.01 276.68,142.16 276.93,142.33 277.18,142.54 277.43,142.82 277.68,143.13 277.93,143.47 278.18,143.83 278.43,144.19 278.68,144.52 278.93,144.87 279.18,145.21 279.43,145.56 279.68,145.87 279.93,146.17 280.18,146.45 280.43,146.72 280.68,147.01 280.93,147.31 281.18,147.58 281.43,147.83 281.68,148.03 281.93,148.14 282.18,148.22 282.43,148.27 282.68,148.29 282.93,148.33 283.18,148.34 283.43,148.33 283.68,148.3 283.93,148.25 284.18,148.2 284.43,148.12 284.68,148.03 284.93,147.94 285.18,147.79 285.43,147.64 285.68,147.5 285.93,147.37 286.18,147.25 286.43,147.16 286.68,147.09 286.93,147.07 287.18,147.11 287.43,147.25 287.68,147.45 287.93,147.72 288.18,148.05 288.43,148.42 288.68,148.85 288.93,149.35 289.18,149.9 289.43,150.49 289.68,151.12 289.93,151.74 290.18,152.34 290.43,152.88 290.68,153.32 290.93,153.63 291.18,153.8 291.43,153.8 291.68,153.69 291.93,153.47 292.18,153.14 292.43,152.74 292.68,152.27 292.93,151.7 293.18,151.16 293.43,150.69 293.68,150.29 293.93,150.1 294.18,150.03 294.43,150.09 294.68,150.28 294.93,150.57 295.18,150.97 295.43,151.48 295.68,152.09 295.93,152.78 296.18,153.44 296.43,154.13 296.68,154.81 296.93,155.42" fill="none" stroke="#00aeef" stroke-width="3.43" stroke-linejoin="round" stroke-linecap="round" />
<polyline points="296.93,155.42 297.18,155.99 297.43,156.46 297.68,156.76 297.93,156.87 298.18,156.81 298.43,156.6 298.68,156.28 298.93,155.9 299.18,155.49 299.43,155.07 299.68,154.69 299.93,154.37 300.18,154.13 300.43,153.98 300.68,153.94 300.93,154.01 301.18,154.2 301.43,154.5 301.68,154.9 301.93,155.42 302.18,156.04 302.43,156.75 302.68,157.53 302.93,158.33 303.18,159.1 303.43,159.77 303.68,160.23 303.93,160.37 304.18,160.22 304.43,159.81 304.68,159.18 304.93,158.58 305.18,157.98 305.43,157.42 305.68,156.96 305.93,156.6 306.18,156.34 306.43,156.3 306.68,156.49 306.93,156.92 307.18,157.6" fill="none" stroke="#00aeef" stroke-width="3.68" stroke-linejoin="round" stroke-linecap="round" />
<polyline points="307.18,157.6 307.43,158.47 307.68,159.49 307.93,160.57 308.18,161.64 308.43,162.54 308.68,163.1 308.93,163.24 309.18,162.93 309.43,162.18 309.68,161.27 309.93,160.32 310.18,159.47 310.43,158.9 310.68,158.58 310.93,158.51 311.18,158.7 311.43,159.14 311.68,159.82 311.93,160.71 312.18,161.74 312.43,162.83 312.68,163.88" fill="none" stroke="#00aeef" stroke-width="3.94" stroke-linejoin="round" stroke-linecap="round" />
<polyline points="312.68,163.88 312.93,164.73 313.18,165.25 313.43,165.36 313.68,165.03 313.93,164.37 314.18,163.55 314.43,162.73 314.68,162.02 314.93,161.51 315.18,161.29 315.42,161.38 315.67,161.8 315.91,162.55 316.15,163.56 316.39,164.76 316.63,165.98 316.87,167.01 317.1,167.58 317.33,167.61 317.57,167.11 317.8,166.23" fill="none" stroke="#00aeef" stroke-width="4.19" stroke-linejoin="round" stroke-linecap="round" />
<polyline points="317.8,166.23 318.03,165.24 318.25,164.36 318.48,163.67 318.71,163.26 318.93,163.17 319.15,163.45 319.37,164.08 319.59,164.98 319.81,166.1 320.03,167.33 320.24,168.4 320.46,169.16 320.67,169.53 320.88,169.45 321.09,168.95 321.3,168.22 321.51,167.5 321.72,166.81 321.92,166.27 322.13,165.94 322.33,165.89 322.53,166.01 322.73,166.41 322.93,167.08 323.13,167.96" fill="none" stroke="#00aeef" stroke-width="4.45" stroke-linejoin="round" stroke-linecap="round" />
<polyline points="323.13,167.96 323.33,168.99 323.53,170.05 323.72,170.98 323.92,171.58 324.11,171.74 324.31,171.44 324.5,170.8 324.69,169.86 324.88,168.89 325.07,168.08 325.25,167.5 325.44,167.21 325.63,167.24 325.81,167.7 326,168.44 326.18,169.4 326.36,170.47 326.54,171.52 326.72,172.35 326.9,172.9 327.08,173 327.26,172.68 327.44,172.08 327.61,171.37 327.79,170.71 327.96,170.07 328.13,169.6 328.31,169.4 328.48,169.48 328.65,169.81 328.82,170.39 328.99,171.22 329.16,172.27 329.33,173.31 329.49,174.19 329.66,174.77 329.83,174.97 329.99,174.8 330.15,174.25 330.32,173.53 330.48,172.8 330.64,172.18 330.8,171.77 330.96,171.6 331.12,171.72 331.28,172.2" fill="none" stroke="#00aeef" stroke-width="4.7" stroke-linejoin="round" stroke-linecap="round" />
<polyline points="331.28,172.2 331.44,172.93 331.6,173.88 331.76,174.95 331.91,176 332.07,176.89 332.22,177.44 332.38,177.35 332.53,176.84 332.68,176.05 332.84,175.14 332.99,174.25 333.14,173.52 333.29,173 333.44,172.89 333.59,173.1 333.74,173.57 333.88,174.26 334.03,175.12 334.18,176.05 334.33,176.94 334.47,177.67 334.62,178.13 334.76,178.24 334.9,178.04 335.05,177.59 335.19,177.03 335.33,176.48 335.47,176.04 335.62,175.72 335.76,175.6 335.9,175.71 336.04,176.07 336.17,176.64 336.31,177.39 336.45,178.23 336.59,179.06 336.73,179.73 336.86,180.13 337,180.19 337.13,179.91 337.27,179.38 337.4,178.71 337.54,178.05 337.67,177.5 337.8,177.19 337.94,177.17 338.07,177.39 338.2,177.86 338.33,178.53 338.46,179.35 338.59,180.24 338.72,181.09 338.85,181.75 338.98,182.01 339.11,181.96 339.23,181.63 339.36,181.1 339.49,180.48 339.61,179.87 339.74,179.36 339.87,179.02 339.99,178.9 340.12,179.01 340.24,179.33 340.36,179.82 340.49,180.45 340.61,181.14 340.73,181.81 340.85,182.35 340.98,182.68 341.1,182.83 341.22,182.78 341.34,182.52 341.46,182.14 341.58,181.75 341.7,181.44 341.82,181.27 341.94,181.3 342.05,181.53 342.17,181.92 342.29,182.41 342.41,183.04 342.52,183.74 342.64,184.4 342.76,184.93 342.87,185.23 342.99,185.27 343.1,185.05 343.22,184.65 343.33,184.2 343.44,183.77 343.56,183.43 343.67,183.24 343.78,183.22 343.9,183.4 344.01,183.75 344.12,184.26" fill="none" stroke="#00aeef" stroke-width="4.95" stroke-linejoin="round" stroke-linecap="round" />
<polyline points="344.12,184.26 344.23,184.87 344.34,185.53 344.45,186.13 344.56,186.61 344.67,186.91 344.78,186.99 344.89,186.86 345,186.57 345.11,186.19 345.22,185.79 345.33,185.47 345.43,185.25 345.54,185.13 345.65,185.19 345.75,185.41 345.86,185.8 345.97,186.29 346.07,186.85 346.18,187.38 346.28,187.81 346.39,188.06 346.49,188.09 346.6,187.93 346.7,187.61 346.8,187.21 346.91,186.8 347.01,186.46 347.11,186.25 347.22,186.19 347.32,186.31 347.42,186.6 347.52,187.03 347.62,187.55 347.73,188.04 347.83,188.48 347.93,188.81 348.03,188.98 348.13,188.94 348.23,188.73 348.33,188.38 348.43,187.95 348.52,187.52 348.62,187.16 348.72,186.89 348.82,186.99 348.92,187.25 349.01,187.66 349.11,188.2 349.21,188.83 349.31,189.51 349.4,190.17 349.5,190.73 349.6,191.15 349.69,191.39 349.79,191.44 349.88,191.25 349.98,190.9 350.07,190.53 350.17,190.21 350.26,189.99 350.35,189.92 350.45,190 350.54,190.24 350.64,190.61 350.73,191.07 350.82,191.58 350.91,192.05 351.01,192.44 351.1,192.67 351.19,192.71 351.28,192.59 351.37,192.33 351.46,192 351.56,191.67 351.65,191.4 351.74,191.23 351.83,191.2 351.92,191.3 352.01,191.54 352.1,191.91 352.19,192.36 352.28,192.84 352.36,193.3 352.45,193.67 352.54,193.91 352.63,193.98 352.72,193.9 352.81,193.68 352.89,193.4 352.98,193.09 353.07,192.84 353.16,192.64 353.24,192.5 353.33,192.49 353.42,192.63 353.5,192.89 353.59,193.24 353.67,193.62 353.76,193.99 353.85,194.27 353.93,194.41 354.02,194.38 354.1,194.19 354.18,193.87 354.27,193.58 354.35,193.39 354.44,193.25 354.52,193.2 354.61,193.28 354.69,193.49 354.77,193.84 354.86,194.3 354.94,194.83 355.02,195.39 355.1,195.92 355.19,196.37 355.27,196.69 355.35,196.81 355.43,196.66 355.51,196.41 355.59,196.08 355.68,195.75 355.76,195.47 355.84,195.26 355.92,195.17 356,195.21 356.08,195.36 356.16,195.63 356.24,195.98 356.32,196.36 356.4,196.72 356.48,197.03 356.56,197.24 356.64,197.29 356.72,197.2 356.79,196.99 356.87,196.71 356.95,196.42 357.03,196.18 357.11,196.01 357.19,195.97 357.26,196.05 357.34,196.26 357.42,196.57 357.5,196.96 357.57,197.41 357.65,197.87 357.73,198.25 357.8,198.5 357.88,198.61 357.96,198.58 358.03,198.44 358.11,198.25 358.18,198.05 358.26,197.89 358.34,197.81 358.41,197.84 358.49,197.99 358.56,198.25 358.64,198.61 358.71,198.98 358.79,199.39 358.86,199.77 358.93,200.08 359.01,200.28 359.08,200.34 359.16,200.27 359.23,200.1 359.3,199.86 359.38,199.61 359.45,199.4 359.52,199.26 359.6,199.23 359.67,199.31 359.74,199.53 359.81,199.94 359.89,200.41 359.96,200.91 360.03,201.39 360.1,201.79 360.17,202.08 360.25,202.24 360.32,202.27 360.39,202.19 360.46,202.05 360.53,201.91 360.6,201.81 360.67,201.78 360.74,201.86 360.81,202.05 360.88,202.19 360.95,202.39 361.02,202.65 361.09,202.94 361.16,203.2 361.23,203.39 361.3,203.48 361.37,203.44" fill="none" stroke="#00aeef" stroke-width="5.2" stroke-linejoin="round" stroke-linecap="round" />
<polyline points="361.37,203.44 361.44,203.29 361.51,203.03 361.58,202.72 361.65,202.4 361.72,202.11 361.79,201.89 361.86,201.77 361.92,201.76 361.99,201.98 362.06,202.3 362.13,202.68 362.2,203.1 362.26,203.49 362.33,203.81 362.4,204.04 362.47,204.13 362.53,204.11 362.6,203.99 362.67,203.81 362.73,203.62 362.8,203.47 362.87,203.38 362.93,203.4 363,203.52 363.07,203.76 363.13,204.09 363.2,204.48 363.27,204.9 363.33,205.29 363.4,205.62 363.46,205.84 363.53,205.95 363.59,205.93 363.66,205.83 363.72,205.68 363.79,205.51 363.85,205.38 363.92,205.32 363.98,205.35 364.05,205.48 364.11,205.71 364.18,206.02 364.24,206.38 364.3,206.76 364.37,207.12 364.43,207.42 364.5,207.62 364.56,207.71 364.62,207.68 364.69,207.57 364.75,207.39 364.81,207.21 364.88,207.06 364.94,206.97 365,206.98 365.06,207.08 365.13,207.29 365.19,207.59 365.25,207.93 365.31,208.27 365.38,208.58 365.44,208.84 365.5,208.99 365.56,209.03 365.62,208.96 365.69,208.8 365.75,208.59 365.81,208.37 365.87,208.19 365.93,208.06 365.99,208.03 366.05,208.1 366.12,208.27 366.18,208.52 366.24,208.82 366.3,209.15 366.36,209.47 366.42,209.74 366.48,209.92 366.54,209.99 366.6,209.96 366.66,209.83 366.72,209.66 366.78,209.47 366.84,209.31 366.9,209.22 366.96,209.21 367.02,209.3 367.08,209.49 367.14,209.76 367.2,210.09 367.25,210.44 367.31,210.78 367.37,211.05 367.43,211.23 367.49,211.39 367.55,211.44 367.61,211.4 367.67,211.32 367.72,211.22 367.78,211.15 367.84,211.15 367.9,211.23 367.96,211.41 368.01,211.68 368.07,212.04 368.13,212.45 368.19,212.88 368.24,213.29 368.3,213.65 368.36,213.91 368.42,214.06 368.47,214.11 368.53,214.07 368.59,213.88 368.64,213.67 368.7,213.5 368.76,213.39 368.81,213.36 368.87,213.42 368.93,213.59 368.98,213.83 369.04,214.12 369.1,214.44 369.15,214.74 369.21,214.98 369.26,215.14 369.32,215.18 369.38,215.12 369.43,214.98 369.49,214.79 369.54,214.59 369.6,214.41 369.65,214.31 369.71,214.31 369.76,214.41 369.82,214.6 369.87,214.87 369.93,215.19 369.98,215.54 370.04,215.86 370.09,216.13 370.15,216.31 370.2,216.39 370.26,216.36 370.31,216.24 370.36,216.08 370.42,215.91 370.47,215.77 370.53,215.68 370.58,215.68 370.63,215.78 370.69,215.97 370.74,216.25 370.8,216.62 370.85,217.02 370.9,217.4 370.96,217.72 371.01,217.95 371.06,218.08 371.11,218.1 371.17,218.04 371.22,217.94 371.27,217.82 371.33,217.73 371.38,217.7 371.43,217.75 371.48,217.9 371.54,218.14 371.59,218.46 371.64,218.83 371.69,219.22 371.75,219.6 371.8,219.92 371.85,220.1 371.9,220.13 371.95,220.05 372.01,219.89 372.06,219.68 372.11,219.46 372.16,219.26 372.21,219.13 372.26,219.08 372.32,219.13 372.37,219.27 372.42,219.48 372.47,219.75" fill="none" stroke="#00aeef" stroke-width="5.36" stroke-linejoin="round" stroke-linecap="round" />
</g>
<g clip-path="url(#cx)">
<polyline points="176.93,108.71 177.18,108.82 177.43,108.92 177.68,109.03 177.93,109.13 178.18,109.24 178.43,109.34 178.68,109.45 178.93,109.55 179.18,109.66 179.43,109.76 179.68,109.87 179.93,109.97 180.18,110.07 180.43,110.18 180.68,110.28 180.93,110.39 181.18,110.49 181.43,110.6 181.68,110.7 181.93,110.81 182.18,110.92 182.43,111.02 182.68,111.13 182.93,111.24 183.18,111.34 183.43,111.45 183.68,111.56 183.93,111.66 184.18,111.77 184.43,111.88 184.68,111.99 184.93,112.1 185.18,112.21 185.43,112.31 185.68,112.42 185.93,112.53 186.18,112.64 186.43,112.75 186.68,112.86 186.93,112.97 187.18,113.08 187.43,113.19 187.68,113.3 187.93,113.42 188.18,113.53 188.43,113.64 188.68,113.75 188.93,113.86 189.18,113.97 189.43,114.09 189.68,114.2 189.93,114.31 190.18,114.42 190.43,114.54 190.68,114.65 190.93,114.77 191.18,114.88 191.43,114.99 191.68,115.11 191.93,115.22 192.18,115.34 192.43,115.45 192.68,115.57 192.93,115.68 193.18,115.8 193.43,115.91 193.68,116.03 193.93,116.15 194.18,116.26 194.43,116.38 194.68,116.5 194.93,116.61 195.18,116.73 195.43,116.85 195.68,116.97 195.93,117.09 196.18,117.2 196.43,117.32 196.68,117.44" fill="none" stroke="#ec008c" stroke-width="2.31" stroke-linejoin="round" stroke-linecap="round" />
<polyline points="196.68,117.44 196.93,117.56 197.18,117.68 197.43,117.8 197.68,117.92 197.93,118.04 198.18,118.16 198.43,118.28 198.68,118.4 198.93,118.52 199.18,118.64 199.43,118.76 199.68,118.88 199.93,119 200.18,119.12 200.43,119.25 200.68,119.37 200.93,119.49 201.18,119.62 201.43,119.74 201.68,119.87 201.93,119.99 202.18,120.12 202.43,120.24 202.68,120.37 202.93,120.5 203.18,120.63 203.43,120.76 203.68,120.89 203.93,121.02 204.18,121.15 204.43,121.28 204.68,121.41 204.93,121.54 205.18,121.68 205.43,121.81 205.68,121.95 205.93,122.08 206.18,122.22 206.43,122.35 206.68,122.49 206.93,122.63 207.18,122.76 207.43,122.9 207.68,123.04 207.93,123.18" fill="none" stroke="#ec008c" stroke-width="2.57" stroke-linejoin="round" stroke-linecap="round" />
<polyline points="207.93,123.18 208.18,123.32 208.43,123.46 208.68,123.6 208.93,123.74 209.18,123.88 209.43,124.02 209.68,124.17 209.93,124.31 210.18,124.45 210.43,124.59 210.68,124.74 210.93,124.88 211.18,125.02 211.43,125.16 211.68,125.31 211.93,125.45 212.18,125.59 212.43,125.74 212.68,125.88 212.93,126.02 213.18,126.16 213.43,126.31 213.68,126.45 213.93,126.59 214.18,126.73 214.43,126.87 214.68,127.01 214.93,127.15 215.18,127.28 215.43,127.42 215.68,127.56 215.93,127.69 216.18,127.83 216.43,127.96 216.68,128.09 216.93,128.22 217.18,128.35 217.43,128.48 217.68,128.61 217.93,128.73 218.18,128.86 218.43,128.98 218.68,129.1 218.93,129.22 219.18,129.34 219.43,129.45 219.68,129.57 219.93,129.68 220.18,129.79 220.43,129.9 220.68,130 220.93,130.11 221.18,130.21 221.43,130.31 221.68,130.41" fill="none" stroke="#ec008c" stroke-width="2.82" stroke-linejoin="round" stroke-linecap="round" />
<polyline points="221.68,130.41 221.93,130.5 222.18,130.6 222.43,130.69 222.68,130.78 222.93,130.87 223.18,130.96 223.43,131.04 223.68,131.13 223.93,131.21 224.18,131.29 224.43,131.37 224.68,131.44 224.93,131.52 225.18,131.59 225.43,131.67 225.68,131.74 225.93,131.81 226.18,131.88 226.43,131.95 226.68,132.02 226.93,132.08 227.18,132.15 227.43,132.22 227.68,132.29 227.93,132.35 228.18,132.42 228.43,132.49 228.68,132.56 228.93,132.62 229.18,132.69 229.43,132.76 229.68,132.83 229.93,132.9 230.18,132.97 230.43,133.05 230.68,133.12 230.93,133.2 231.18,133.28 231.43,133.36 231.68,133.44 231.93,133.52 232.18,133.61 232.43,133.69 232.68,133.78 232.93,133.87 233.18,133.97 233.43,134.06 233.68,134.16 233.93,134.26 234.18,134.37 234.43,134.47 234.68,134.58 234.93,134.69 235.18,134.81 235.43,134.93 235.68,135.05 235.93,135.17 236.18,135.29 236.43,135.42 236.68,135.55 236.93,135.68 237.18,135.82 237.43,135.96 237.68,136.1 237.93,136.24 238.18,136.38 238.43,136.53 238.68,136.67 238.93,136.82 239.18,136.97 239.43,137.12 239.68,137.27 239.93,137.42 240.18,137.58 240.43,137.73 240.68,137.88 240.93,138.03 241.18,138.18 241.43,138.33 241.68,138.47 241.93,138.62 242.18,138.76 242.43,138.9 242.68,139.04 242.93,139.17 243.18,139.3 243.43,139.43 243.68,139.55 243.93,139.67 244.18,139.79 244.43,139.9 244.68,140.01 244.93,140.11 245.18,140.21 245.43,140.31 245.68,140.4 245.93,140.49 246.18,140.57 246.43,140.65 246.68,140.73 246.93,140.81 247.18,140.89 247.43,140.96 247.68,141.03 247.93,141.11 248.18,141.18 248.43,141.25 248.68,141.33 248.93,141.4 249.18,141.48 249.43,141.56 249.68,141.65 249.93,141.74 250.18,141.83 250.43,141.93 250.68,142.03 250.93,142.14 251.18,142.26 251.43,142.38 251.68,142.5 251.93,142.64 252.18,142.78 252.43,142.93 252.68,143.08 252.93,143.25 253.18,143.41 253.43,143.59 253.68,143.77 253.93,143.95 254.18,144.14 254.43,144.34 254.68,144.53 254.93,144.73 255.18,144.93 255.43,145.12 255.68,145.32 255.93,145.5 256.18,145.69 256.43,145.86 256.68,146.02 256.93,146.18 257.18,146.32 257.43,146.44 257.68,146.55 257.93,146.64 258.18,146.72 258.43,146.77 258.68,146.81 258.93,146.83 259.18,146.83 259.43,146.81 259.68,146.77 259.93,146.72 260.18,146.66 260.43,146.58 260.68,146.5 260.93,146.4 261.18,146.31 261.43,146.21 261.68,146.12 261.93,146.03 262.18,145.95 262.43,145.87 262.68,145.81 262.93,145.77 263.18,145.74 263.43,145.72 263.68,145.73 263.93,145.76 264.18,145.82 264.43,145.9 264.68,146.01 264.93,146.15 265.18,146.31 265.43,146.51 265.68,146.73 265.93,146.99 266.18,147.28 266.43,147.59 266.68,147.94 266.93,148.31 267.18,148.71 267.43,149.13 267.68,149.58 267.93,150.04 268.18,150.51 268.43,150.99 268.68,151.47 268.93,151.94 269.18,152.4 269.43,152.84 269.68,153.24 269.93,153.61 270.18,153.92 270.43,154.18 270.68,154.37 270.93,154.5 271.18,154.56 271.43,154.56 271.68,154.5 271.93,154.39 272.18,154.23 272.43,154.03 272.68,153.81 272.93,153.56 273.18,153.31 273.43,153.06 273.68,152.83 273.93,152.6 274.18,152.4 274.43,152.23 274.68,152.09 274.93,151.98 275.18,151.92 275.43,151.89 275.68,151.91 275.93,151.97 276.18,152.07 276.43,152.22 276.68,152.41 276.93,152.64 277.18,152.91 277.43,153.21 277.68,153.55 277.93,153.92 278.18,154.31 278.43,154.73 278.68,155.16 278.93,155.6 279.18,156.04 279.43,156.49 279.68,156.93 279.93,157.36 280.18,157.77 280.43,158.16 280.68,158.53 280.93,158.87 281.18,159.18 281.43,159.45 281.68,159.69 281.93,159.9 282.18,160.07 282.43,160.2 282.68,160.3 282.93,160.36 283.18,160.38 283.43,160.38 283.68,160.34 283.93,160.27 284.18,160.18 284.43,160.07 284.68,159.94" fill="none" stroke="#ec008c" stroke-width="2.82" stroke-linejoin="round" stroke-linecap="round" />
<polyline points="284.68,159.94 284.93,159.8 285.18,159.66 285.43,159.52 285.68,159.39 285.93,159.28 286.18,159.2 286.43,159.16 286.68,159.16 286.93,159.21 287.18,159.32 287.43,159.5 287.68,159.75 287.93,160.08 288.18,160.48 288.43,160.97 288.68,161.54 288.93,162.18 289.18,162.88 289.43,163.64 289.68,164.43 289.93,165.23" fill="none" stroke="#ec008c" stroke-width="2.57" stroke-linejoin="round" stroke-linecap="round" />
<polyline points="289.93,165.23 290.18,165.99 290.43,166.69 290.68,167.27 290.93,167.69 291.18,167.92 291.43,167.94 291.68,167.76 291.93,167.42 292.18,166.94 292.43,166.38 292.68,165.79 292.93,165.21 293.18,164.69 293.43,164.24 293.68,163.89 293.93,163.66 294.18,163.55 294.43,163.58 294.68,163.76 294.93,164.07 295.18,164.53 295.43,165.13 295.68,165.85 295.93,166.7 296.18,167.64 296.43,168.64 296.68,169.66 296.93,170.66 297.18,171.55 297.43,172.26 297.68,172.74 297.93,172.93 298.18,172.83 298.43,172.46 298.68,171.88 298.93,171.16 299.18,170.39 299.43,169.61 299.68,168.89 299.93,168.25 300.18,167.74 300.43,167.37 300.68,167.15 300.93,167.12 301.18,167.28 301.43,167.64 301.68,168.23 301.93,169.04 302.18,170.08 302.43,171.35 302.68,172.81 302.93,174.41 303.18,176.03 303.43,177.46 303.68,178.46 303.93,178.78 304.18,178.34 304.43,177.26 304.68,175.78 304.93,174.16 305.18,172.61 305.43,171.26 305.68,170.19 305.93,169.44 306.18,169.04 306.43,169.02 306.68,169.39 306.93,170.17 307.18,171.39 307.43,173.06 307.68,175.2" fill="none" stroke="#ec008c" stroke-width="2.32" stroke-linejoin="round" stroke-linecap="round" />
<polyline points="307.68,175.2 307.93,177.78 308.18,180.65 308.43,183.45 308.68,185.46 308.93,185.86 309.18,184.51 309.43,182.11 309.68,179.45 309.93,177.02 310.18,175.04 310.43,173.56 310.68,172.62 310.93,172.21 311.18,172.34 311.43,173.02 311.68,174.28 311.93,176.16 312.18,178.7 312.43,181.91 312.68,185.68 312.93,189.48 313.18,191.96 313.43,191.62 313.68,188.81 313.93,185.22 314.18,181.91 314.43,179.28 314.68,177.39 314.93,176.22 315.18,175.78 315.42,176.03 315.67,177 315.91,178.71 316.15,181.22 316.39,184.6 316.63,188.83 316.87,193.49 317.1,197 317.33,196.9 317.57,193.45 317.8,189.16 318.03,185.41 318.25,182.53 318.48,180.52 318.71,179.32 318.93,178.87 319.15,179.15 319.37,180.16 319.59,181.93 319.81,184.53 320.03,188.03 320.24,192.4 320.46,197.23 320.67,200.8 320.88,200.5 321.09,196.79 321.3,192.36 321.51,188.55 321.72,185.64 321.92,183.6 322.13,182.37 322.33,181.9 322.53,182.14 322.73,183.12 322.93,184.87 323.13,187.47 323.33,191.01 323.53,195.54 323.72,200.73 323.92,204.86 324.11,204.72 324.31,200.62 324.5,195.78 324.69,191.69 324.88,188.6 325.07,186.46 325.25,185.16 325.44,184.66 325.63,184.9 325.81,185.92 326,187.74 326.18,190.45 326.36,194.18 326.54,199.04 326.72,204.75 326.9,209.38 327.08,208.96 327.26,204.18 327.44,198.93 327.61,194.66 327.79,191.5 327.96,189.34 328.13,188.04 328.31,187.55 328.48,187.82 328.65,188.86 328.82,190.72 328.99,193.51 329.16,197.39 329.33,202.55 329.49,208.9 329.66,214.55 329.83,214.25 329.99,208.63 330.15,202.75 330.32,198.13 330.48,194.77 330.64,192.49 330.8,191.13 330.96,190.6 331.12,190.87 331.28,191.95 331.44,193.9 331.6,196.86 331.76,201.06 331.91,206.88 332.07,214.77 332.22,223.17 332.38,222.56 332.53,214.27 332.68,207.04 332.84,201.84 332.99,198.21 333.14,195.8 333.29,194.39 333.44,193.85 333.59,194.15 333.74,195.29 333.88,197.36 334.03,200.53 334.18,205.15 334.33,211.93 334.47,222.65 334.62,242.37 334.76,239.42 334.9,221.58 335.05,211.92 335.19,205.86 335.33,201.84 335.47,199.23 335.62,197.7 335.76,197.11 335.9,197.39 336.04,198.56 336.17,200.73 336.31,204.12 336.45,209.24 336.59,217.45 336.73,235.79 336.86,233.99 337,235.25 337.13,233.31 337.27,217.39 337.4,209.96 337.54,205.42 337.67,202.56 337.8,200.91 337.94,200.27 338.07,200.56 338.2,201.81 338.33,204.15 338.46,207.89 338.59,213.81 338.72,224.76 338.85,240.66 338.98,226.4 339.11,227.1 339.23,248.41 339.36,223.93 339.49,214.31 339.61,209.1 339.74,205.95 339.87,204.16 339.99,203.46 340.12,203.76 340.24,205.07 340.36,207.56 340.49,211.63 340.61,218.42 340.73,233.84 340.85,231.66 340.98,224.49 341.1,225.03 341.22,234.38 341.34,231.57 341.46,218.65 341.58,212.68 341.7,209.23 341.82,207.31 341.94,206.55 342.05,206.84 342.17,208.2 342.29,210.81 342.41,215.18 342.52,222.83 342.64,246.45 342.76,229.97 342.87,224.73 342.99,225.29 343.1,232.37 343.22,239.4 343.33,222.54 343.44,215.98 343.56,212.31 343.67,210.28 343.78,209.48 343.9,209.76 344.01,211.14 344.12,213.82 344.23,218.36 344.34,226.6 344.45,269.21 344.56,230.69 344.67,226.16 344.78,226.73 344.89,233.02 345,246.45 345.11,225.89 345.22,218.97 345.33,215.2 345.43,213.15 345.54,212.37 345.65,212.7 345.75,214.14 345.86,216.92 345.97,221.61 346.07,230.24 346.18,267.07 346.28,232.97 346.39,228.78 346.49,229.38 346.6,235.35 346.7,253.44 346.8,229.72 346.91,222.6 347.01,218.78 347.11,216.73 347.22,215.96 347.32,216.3 347.42,217.78 347.52,220.61 347.62,225.42 347.73,234.37 347.83,261.23 347.93,235.93 348.03,231.98 348.13,232.6 348.23,238.32 348.33,261.32 348.43,233.82 348.52,226.51 348.62,222.65 348.72,220.59 348.82,219.82 348.92,220.18 349.01,221.69 349.11,224.56 349.21,229.45 349.31,238.67 349.4,260.93 349.5,239.32 349.6,235.53 349.69,236.15 349.79,241.66 349.88,271.3 349.98,238.15 350.07,230.67 350.17,226.76 350.26,224.69 350.35,223.93 350.45,224.3 350.54,225.84 350.64,228.75 350.73,233.73 350.82,243.2 350.91,262.31 351.01,243.03 351.1,239.39 351.19,240.02 351.28,245.39 351.37,284.72 351.46,242.66 351.56,235.03 351.65,231.09 351.74,229.02 351.83,228.27 351.92,228.66 352.01,230.21 352.1,233.17 352.19,238.21 352.28,247.9 352.36,264.92 352.45,247.08 352.54,243.55 352.63,244.19 352.72,249.44 352.81,312.4 352.89,247.36 352.98,239.61 353.07,235.64 353.16,233.56 353.24,232.81 353.33,233.22 353.42,234.79 353.5,237.78 353.59,242.87 353.67,252.75 353.76,268.21 353.85,251.4 353.93,247.96 354.02,248.61 354.1,253.78 354.18,293.69 354.27,252.22 354.35,244.37 354.44,240.38 354.52,238.3 354.61,237.56 354.69,237.97 354.77,239.57 354.86,242.58 354.94,247.72 355.02,257.75 355.1,272.07 355.19,255.99 355.27,252.62 355.35,253.28 355.43,258.39 355.51,292.8 355.59,257.23 355.68,249.3 355.76,245.29 355.84,243.21 355.92,242.48 356,242.91 356.08,244.52 356.16,247.55 356.24,252.73 356.32,262.88 356.4,276.4 356.48,260.81 356.56,257.49 356.64,258.16 356.72,263.23 356.79,294.88 356.87,262.38 356.95,254.39 357.03,250.37 357.11,248.29 357.19,247.57 357.26,248 357.34,249.63 357.42,252.68 357.5,257.89 357.57,268.12 357.65,281.11 357.73,265.84 357.8,262.56 357.88,263.24 357.96,268.29 358.03,298.5 358.11,267.64 358.18,259.62 358.26,255.6 358.34,253.52 358.41,252.8 358.49,253.25 358.56,254.88 358.64,257.95 358.71,263.18 358.79,273.47 358.86,286.15 358.93,271.08 359.01,267.82 359.08,268.51 359.16,273.55 359.23,303.08 359.3,273.02 359.38,264.98 359.45,260.96 359.52,258.89 359.6,258.18 359.67,258.64 359.74,260.28 359.81,263.36 359.89,268.6 359.96,278.92 360.03,291.5 360.1,276.49 360.17,273.26 360.25,273.96 360.32,279 360.39,308.45 360.46,278.5 360.53,270.47 360.6,266.46 360.67,264.4 360.74,263.69 360.81,264.16 360.88,265.81 360.95,268.89 361.02,274.14 361.09,284.44 361.16,297.14 361.23,282.08 361.3,278.85 361.37,279.56 361.44,284.62 361.51,314.56 361.58,284.07 361.65,276.06 361.72,272.07 361.79,270.02 361.86,269.32 361.92,269.79 361.99,271.45 362.06,274.53 362.13,279.78 362.2,290.05 362.26,303.06 362.33,287.83 362.4,284.59 362.47,285.31 362.53,290.41 362.6,321.45 362.67,289.73 362.73,281.76 362.8,277.79 362.87,275.74 362.93,275.06 363,275.54 363.07,277.19 363.13,280.28 363.2,285.51 363.27,295.72 363.33,309.24 363.4,293.73 363.46,290.47 363.53,291.21 363.59,296.36 363.66,329.42 363.72,295.46 363.79,287.56 363.85,283.6 363.92,281.58 363.98,280.9 364.05,281.38 364.11,283.04 364.18,286.12 364.24,291.34 364.3,301.46 364.37,315.72 364.43,299.78 364.5,296.49 364.56,297.24 364.62,302.45 364.69,338.97 364.75,301.27 364.81,293.44 364.88,289.51 364.94,287.5 365,286.83 365.06,287.32 365.13,288.98 365.19,292.06 365.25,297.25 365.31,307.26 365.38,322.48 365.44,305.96 365.5,302.64 365.56,303.39 365.62,308.69 365.69,352.75 365.75,307.13 365.81,299.4 365.87,295.51 365.93,293.51 365.99,292.85 366.05,293.35 366.12,295.01 366.18,298.08 366.24,303.24 366.3,313.1 366.36,329.61 366.42,312.29 366.48,308.91 366.54,309.67 366.6,315.07 366.66,376.51 366.72,313.06 366.78,305.44 366.84,301.58 366.9,299.61 366.96,298.96 367.02,299.45 367.08,301.11 367.14,304.17 367.2,309.29 367.25,318.99 367.31,337.14 367.37,318.74 367.43,315.29 367.49,316.07 367.55,321.59 367.61,359.7 367.67,319.03 367.72,311.55 367.78,307.73 367.84,305.77 367.9,305.13 367.96,305.63 368.01,307.29 368.07,310.33 368.13,315.41 368.19,324.93 368.24,345.21 368.3,325.33 368.36,321.79 368.42,322.59 368.47,328.26 368.53,358.08 368.59,325.05 368.64,317.71 368.7,313.94 368.76,312.01 368.81,311.38 368.87,311.88 368.93,313.54 368.98,316.56 369.04,321.58 369.1,330.89 369.15,354.17 369.21,332.06 369.26,328.41 369.32,329.22 369.38,335.06 369.43,359.55 369.49,331.12 369.54,323.93 369.6,320.21 369.65,318.3 369.71,317.69 369.76,318.19 369.82,319.84 369.87,322.84 369.93,327.81 369.98,336.91 370.04,364.34 370.09,338.91 370.15,335.13 370.2,335.97 370.26,342.04 370.31,362 370.36,337.21 370.42,330.2 370.47,326.54 370.53,324.66 370.58,324.06 370.63,324.57 370.69,326.21 370.74,329.18 370.8,334.08 370.85,342.94 370.9,378.28 370.96,345.94 371.01,342 371.06,342.85 371.11,349.18 371.17,365.4 371.22,343.36 371.27,336.53 371.33,332.93 371.38,331.07 371.43,330.48 371.48,330.99 371.54,332.62 371.59,335.56 371.64,340.39 371.69,349.01 371.75,400 371.8,353.09 371.85,348.95 371.9,349.83 371.95,356.5 372.01,369.19 372.06,349.51 372.11,342.88 372.16,339.35 372.21,337.52 372.26,336.95 372.32,337.46 372.37,339.08 372.42,342 372.47,346.76" fill="none" stroke="#ec008c" stroke-width="2.17" stroke-linejoin="round" stroke-linecap="round" />
</g>
<g clip-path="url(#cx)">
<g fill="none" stroke="#ff0000" stroke-width="0.95"><circle cx="89.71" cy="71.51" r="1.1"/><circle cx="104.46" cy="76.9" r="1.1"/><circle cx="114.92" cy="75.8" r="1.1"/><circle cx="123.04" cy="77.8" r="1.1"/><circle cx="129.67" cy="76.6" r="1.1"/><circle cx="135.28" cy="77.3" r="1.1"/><circle cx="140.13" cy="77.91" r="1.1"/><circle cx="144.42" cy="78.45" r="1.1"/><circle cx="148.25" cy="78.96" r="1.1"/><circle cx="151.72" cy="79.44" r="1.1"/><circle cx="154.88" cy="79.88" r="1.1"/><circle cx="157.79" cy="80.31" r="1.1"/><circle cx="160.49" cy="80.72" r="1.1"/><circle cx="163" cy="81.14" r="1.1"/><circle cx="165.35" cy="81.57" r="1.1"/><circle cx="167.55" cy="82.02" r="1.1"/><circle cx="169.63" cy="82.48" r="1.1"/><circle cx="171.6" cy="82.96" r="1.1"/><circle cx="173.46" cy="83.42" r="1.1"/><circle cx="175.24" cy="83.88" r="1.1"/><circle cx="176.93" cy="84.31" r="1.1"/><circle cx="178.54" cy="84.73" r="1.1"/><circle cx="180.09" cy="85.12" r="1.1"/><circle cx="181.58" cy="85.5" r="1.1"/><circle cx="183" cy="85.86" r="1.1"/><circle cx="184.38" cy="86.21" r="1.1"/><circle cx="185.7" cy="86.55" r="1.1"/><circle cx="186.98" cy="86.88" r="1.1"/><circle cx="188.21" cy="87.2" r="1.1"/><circle cx="189.4" cy="87.51" r="1.1"/><circle cx="190.56" cy="87.81" r="1.1"/><circle cx="191.68" cy="88.11" r="1.1"/><circle cx="192.76" cy="88.4" r="1.1"/><circle cx="193.82" cy="88.68" r="1.1"/><circle cx="194.84" cy="88.96" r="1.1"/><circle cx="195.84" cy="89.23" r="1.1"/><circle cx="196.81" cy="89.5" r="1.1"/><circle cx="197.75" cy="89.77" r="1.1"/><circle cx="198.67" cy="90.02" r="1.1"/><circle cx="199.57" cy="90.28" r="1.1"/><circle cx="200.45" cy="90.53" r="1.1"/><circle cx="201.3" cy="90.77" r="1.1"/><circle cx="202.14" cy="91.02" r="1.1"/><circle cx="202.96" cy="91.26" r="1.1"/></g>
<g fill="none" stroke="#2e3192" stroke-width="0.95"><circle cx="89.71" cy="73.51" r="1.1"/><circle cx="104.46" cy="78" r="1.1"/><circle cx="114.92" cy="78.5" r="1.1"/><circle cx="123.04" cy="80.4" r="1.1"/><circle cx="129.67" cy="80.5" r="1.1"/><circle cx="135.28" cy="81.6" r="1.1"/><circle cx="140.13" cy="82.39" r="1.1"/><circle cx="144.42" cy="83.04" r="1.1"/><circle cx="148.25" cy="83.62" r="1.1"/><circle cx="151.72" cy="84.18" r="1.1"/><circle cx="154.88" cy="84.69" r="1.1"/><circle cx="157.79" cy="85.18" r="1.1"/><circle cx="160.49" cy="85.7" r="1.1"/><circle cx="163" cy="86.22" r="1.1"/><circle cx="165.35" cy="86.75" r="1.1"/><circle cx="167.55" cy="87.27" r="1.1"/><circle cx="169.63" cy="87.78" r="1.1"/><circle cx="171.6" cy="88.29" r="1.1"/><circle cx="173.46" cy="88.79" r="1.1"/><circle cx="175.24" cy="89.27" r="1.1"/><circle cx="176.93" cy="89.75" r="1.1"/><circle cx="178.54" cy="90.22" r="1.1"/><circle cx="180.09" cy="90.67" r="1.1"/><circle cx="181.58" cy="91.12" r="1.1"/><circle cx="183" cy="91.56" r="1.1"/><circle cx="184.38" cy="92" r="1.1"/><circle cx="185.7" cy="92.45" r="1.1"/><circle cx="186.98" cy="92.9" r="1.1"/><circle cx="188.21" cy="93.34" r="1.1"/><circle cx="189.4" cy="93.79" r="1.1"/><circle cx="190.56" cy="94.23" r="1.1"/><circle cx="191.68" cy="94.66" r="1.1"/><circle cx="192.76" cy="95.08" r="1.1"/><circle cx="193.82" cy="95.49" r="1.1"/><circle cx="194.84" cy="95.89" r="1.1"/><circle cx="195.84" cy="96.29" r="1.1"/><circle cx="196.81" cy="96.67" r="1.1"/><circle cx="197.75" cy="97.04" r="1.1"/><circle cx="198.67" cy="97.39" r="1.1"/><circle cx="199.57" cy="97.74" r="1.1"/><circle cx="200.45" cy="98.07" r="1.1"/><circle cx="201.3" cy="98.4" r="1.1"/><circle cx="202.14" cy="98.72" r="1.1"/><circle cx="202.96" cy="99.03" r="1.1"/></g>
<g fill="none" stroke="#00aeef" stroke-width="1"><path d="M88.31 76.4h2.8M89.71 75v2.8"/><path d="M103.06 80.89h2.8M104.46 79.49v2.8"/><path d="M113.52 82.5h2.8M114.92 81.1v2.8"/><path d="M121.64 84.31h2.8M123.04 82.91v2.8"/><path d="M128.27 85.09h2.8M129.67 83.69v2.8"/><path d="M133.88 86.69h2.8M135.28 85.29v2.8"/><path d="M138.73 87.9h2.8M140.13 86.5v2.8"/><path d="M143.02 88.9h2.8M144.42 87.5v2.8"/><path d="M146.85 89.79h2.8M148.25 88.39v2.8"/><path d="M150.32 90.6h2.8M151.72 89.2v2.8"/><path d="M153.48 91.33h2.8M154.88 89.93v2.8"/><path d="M156.39 92.03h2.8M157.79 90.63v2.8"/><path d="M159.09 92.73h2.8M160.49 91.33v2.8"/><path d="M161.6 93.44h2.8M163 92.04v2.8"/><path d="M163.95 94.12h2.8M165.35 92.72v2.8"/><path d="M166.15 94.8h2.8M167.55 93.4v2.8"/><path d="M168.23 95.45h2.8M169.63 94.05v2.8"/><path d="M170.2 96.09h2.8M171.6 94.69v2.8"/><path d="M172.06 96.71h2.8M173.46 95.31v2.8"/><path d="M173.84 97.31h2.8M175.24 95.91v2.8"/><path d="M175.53 97.9h2.8M176.93 96.5v2.8"/><path d="M177.14 98.47h2.8M178.54 97.07v2.8"/><path d="M178.69 99.02h2.8M180.09 97.62v2.8"/><path d="M180.18 99.56h2.8M181.58 98.16v2.8"/><path d="M181.6 100.09h2.8M183 98.69v2.8"/><path d="M182.98 100.61h2.8M184.38 99.21v2.8"/><path d="M184.3 101.13h2.8M185.7 99.73v2.8"/><path d="M185.58 101.65h2.8M186.98 100.25v2.8"/><path d="M186.81 102.16h2.8M188.21 100.76v2.8"/><path d="M188 102.67h2.8M189.4 101.27v2.8"/><path d="M189.16 103.16h2.8M190.56 101.76v2.8"/><path d="M190.28 103.64h2.8M191.68 102.24v2.8"/><path d="M191.36 104.12h2.8M192.76 102.72v2.8"/><path d="M192.42 104.58h2.8M193.82 103.18v2.8"/><path d="M193.44 105.03h2.8M194.84 103.63v2.8"/><path d="M194.44 105.47h2.8M195.84 104.07v2.8"/><path d="M195.41 105.9h2.8M196.81 104.5v2.8"/><path d="M196.35 106.32h2.8M197.75 104.92v2.8"/><path d="M197.27 106.72h2.8M198.67 105.32v2.8"/><path d="M198.17 107.11h2.8M199.57 105.71v2.8"/><path d="M199.05 107.49h2.8M200.45 106.09v2.8"/><path d="M199.9 107.87h2.8M201.3 106.47v2.8"/><path d="M200.74 108.23h2.8M202.14 106.83v2.8"/><path d="M201.56 108.59h2.8M202.96 107.19v2.8"/></g>
<g fill="none" stroke="#ec008c" stroke-width="1.2"><path d="M88.81 79.1l1.8 1.8M88.81 80.9l1.8 -1.8"/><path d="M103.56 84.39l1.8 1.8M103.56 86.19l1.8 -1.8"/><path d="M114.02 88.01l1.8 1.8M114.02 89.81l1.8 -1.8"/><path d="M122.14 90.41l1.8 1.8M122.14 92.21l1.8 -1.8"/><path d="M128.77 92.29l1.8 1.8M128.77 94.09l1.8 -1.8"/><path d="M134.38 93.99l1.8 1.8M134.38 95.79l1.8 -1.8"/><path d="M139.23 95.37l1.8 1.8M139.23 97.17l1.8 -1.8"/><path d="M143.52 96.54l1.8 1.8M143.52 98.34l1.8 -1.8"/><path d="M147.35 97.6l1.8 1.8M147.35 99.4l1.8 -1.8"/><path d="M150.82 98.59l1.8 1.8M150.82 100.39l1.8 -1.8"/><path d="M153.98 99.51l1.8 1.8M153.98 101.31l1.8 -1.8"/><path d="M156.89 100.38l1.8 1.8M156.89 102.18l1.8 -1.8"/><path d="M159.59 101.27l1.8 1.8M159.59 103.07l1.8 -1.8"/><path d="M162.1 102.16l1.8 1.8M162.1 103.96l1.8 -1.8"/><path d="M164.45 103.04l1.8 1.8M164.45 104.84l1.8 -1.8"/><path d="M166.65 103.91l1.8 1.8M166.65 105.71l1.8 -1.8"/><path d="M168.73 104.75l1.8 1.8M168.73 106.55l1.8 -1.8"/><path d="M170.7 105.56l1.8 1.8M170.7 107.36l1.8 -1.8"/><path d="M172.56 106.34l1.8 1.8M172.56 108.14l1.8 -1.8"/><path d="M174.34 107.09l1.8 1.8M174.34 108.89l1.8 -1.8"/><path d="M176.03 107.81l1.8 1.8M176.03 109.61l1.8 -1.8"/><path d="M177.64 108.49l1.8 1.8M177.64 110.29l1.8 -1.8"/><path d="M179.19 109.14l1.8 1.8M179.19 110.94l1.8 -1.8"/><path d="M180.68 109.76l1.8 1.8M180.68 111.56l1.8 -1.8"/><path d="M182.1 110.36l1.8 1.8M182.1 112.16l1.8 -1.8"/><path d="M183.48 110.95l1.8 1.8M183.48 112.75l1.8 -1.8"/><path d="M184.8 111.52l1.8 1.8M184.8 113.32l1.8 -1.8"/><path d="M186.08 112.07l1.8 1.8M186.08 113.87l1.8 -1.8"/><path d="M187.31 112.6l1.8 1.8M187.31 114.4l1.8 -1.8"/><path d="M188.5 113.12l1.8 1.8M188.5 114.92l1.8 -1.8"/><path d="M189.66 113.63l1.8 1.8M189.66 115.43l1.8 -1.8"/><path d="M190.78 114.12l1.8 1.8M190.78 115.92l1.8 -1.8"/><path d="M191.86 114.6l1.8 1.8M191.86 116.4l1.8 -1.8"/><path d="M192.92 115.06l1.8 1.8M192.92 116.86l1.8 -1.8"/><path d="M193.94 115.52l1.8 1.8M193.94 117.32l1.8 -1.8"/><path d="M194.94 115.96l1.8 1.8M194.94 117.76l1.8 -1.8"/><path d="M195.91 116.39l1.8 1.8M195.91 118.19l1.8 -1.8"/><path d="M196.85 116.8l1.8 1.8M196.85 118.6l1.8 -1.8"/><path d="M197.77 117.21l1.8 1.8M197.77 119.01l1.8 -1.8"/><path d="M198.67 117.61l1.8 1.8M198.67 119.41l1.8 -1.8"/><path d="M199.55 118l1.8 1.8M199.55 119.8l1.8 -1.8"/><path d="M200.4 118.38l1.8 1.8M200.4 120.18l1.8 -1.8"/><path d="M201.24 118.75l1.8 1.8M201.24 120.55l1.8 -1.8"/><path d="M202.06 119.12l1.8 1.8M202.06 120.92l1.8 -1.8"/></g>
</g>
<g clip-path="url(#cx)" fill="none" stroke-width="0.8">
<line x1="64.5" y1="21.5" x2="399.5" y2="174.27" stroke="#ff0000" stroke-width="0.75"/>
<line x1="64.5" y1="33" x2="399.5" y2="185.77" stroke="#2e3192" stroke-dasharray="4 2.6"/>
<line x1="64.5" y1="44.5" x2="399.5" y2="197.27" stroke="#00aeef" stroke-dasharray="2 1.7"/>
<line x1="64.5" y1="56.3" x2="399.5" y2="209.07" stroke="#ec008c" stroke-dasharray="4 2 1 2"/>
</g>
<g clip-path="url(#ci)">
<line x1="232.6" y1="15.2" x2="399.5" y2="68.52" stroke="#00aeef" stroke-width="0.8" stroke-dasharray="2 1.7"/>
</g>
<g clip-path="url(#ci)">
<polyline points="232.72,15.64 232.97,15.71 233.22,15.79 233.47,15.86 233.72,15.93 233.97,16.01 234.22,16.08 234.47,16.15 234.72,16.23 234.97,16.3 235.22,16.37 235.47,16.45 235.72,16.52 235.97,16.6 236.22,16.67 236.47,16.75 236.72,16.82 236.97,16.9 237.22,16.97 237.47,17.05 237.72,17.12 237.97,17.2 238.22,17.28 238.47,17.35 238.72,17.43 238.97,17.51 239.22,17.58 239.47,17.66 239.72,17.74 239.97,17.82 240.22,17.89 240.47,17.97 240.72,18.05 240.97,18.13 241.22,18.21 241.47,18.28 241.72,18.36 241.97,18.44 242.22,18.52 242.47,18.6 242.72,18.68 242.97,18.76 243.22,18.84 243.47,18.91 243.72,18.99 243.97,19.07 244.22,19.15 244.47,19.23 244.72,19.31 244.97,19.39 245.22,19.47 245.47,19.55 245.72,19.63 245.97,19.71 246.22,19.79 246.47,19.87 246.72,19.95 246.97,20.03 247.22,20.11 247.47,20.19 247.72,20.27 247.97,20.35 248.22,20.43 248.47,20.51 248.72,20.59 248.97,20.67 249.22,20.74 249.47,20.82 249.72,20.9 249.97,20.98 250.22,21.06 250.47,21.14 250.72,21.21 250.97,21.29" fill="none" stroke="#00aeef" stroke-width="2.53" stroke-linejoin="round" stroke-linecap="round" />
<polyline points="250.97,21.29 251.22,21.37 251.47,21.45 251.72,21.52 251.97,21.6 252.22,21.68 252.47,21.75 252.72,21.83 252.97,21.9 253.22,21.98 253.47,22.05 253.72,22.13 253.97,22.2 254.22,22.28 254.47,22.35 254.72,22.42 254.97,22.49 255.22,22.57 255.47,22.64 255.72,22.71 255.97,22.78 256.22,22.85 256.47,22.92 256.72,22.99 256.97,23.06 257.22,23.13 257.47,23.2 257.72,23.27 257.97,23.34 258.22,23.4 258.47,23.47 258.72,23.54 258.97,23.61 259.22,23.67 259.47,23.74 259.72,23.81 259.97,23.87 260.22,23.94 260.47,24.01 260.72,24.07 260.97,24.14 261.22,24.2 261.47,24.27 261.72,24.34 261.97,24.4 262.22,24.47 262.47,24.54 262.72,24.6 262.97,24.67 263.22,24.74 263.47,24.81 263.72,24.88 263.97,24.94 264.22,25.01 264.47,25.08 264.72,25.15 264.97,25.22 265.22,25.3 265.47,25.37" fill="none" stroke="#00aeef" stroke-width="2.78" stroke-linejoin="round" stroke-linecap="round" />
<polyline points="265.47,25.37 265.72,25.44 265.97,25.52 266.22,25.59 266.47,25.67 266.72,25.75 266.97,25.82 267.22,25.9 267.47,25.98 267.72,26.07 267.97,26.15 268.22,26.23 268.47,26.32 268.72,26.4 268.97,26.49 269.22,26.58 269.47,26.67 269.72,26.76 269.97,26.86 270.22,26.95 270.47,27.05 270.72,27.15 270.97,27.25 271.22,27.35 271.47,27.45 271.72,27.56 271.97,27.67 272.22,27.78 272.47,27.89 272.72,27.99 272.97,28.1 273.22,28.2 273.47,28.31 273.72,28.41 273.97,28.53 274.22,28.64 274.47,28.76 274.72,28.87 274.97,28.99 275.22,29.1 275.47,29.22 275.72,29.34 275.97,29.45 276.22,29.57 276.47,29.69 276.72,29.81 276.97,29.93 277.22,30.04 277.47,30.15 277.72,30.26 277.97,30.37 278.22,30.47" fill="none" stroke="#00aeef" stroke-width="3.04" stroke-linejoin="round" stroke-linecap="round" />
<polyline points="278.22,30.47 278.47,30.55 278.72,30.64 278.97,30.72 279.22,30.8 279.47,30.89 279.72,30.97 279.97,31.04 280.22,31.12 280.47,31.21 280.72,31.3 280.97,31.38 281.22,31.46 281.47,31.54 281.72,31.61 281.97,31.68 282.22,31.74 282.47,31.79 282.72,31.8 282.97,31.81 283.22,31.82 283.47,31.81 283.72,31.84 283.97,31.87 284.22,31.9 284.47,31.92 284.72,31.96 284.97,32.03 285.22,32.09 285.47,32.16 285.72,32.23 285.97,32.25 286.22,32.28 286.47,32.3 286.72,32.33 286.97,32.39 287.22,32.47 287.47,32.55 287.72,32.64 287.97,32.73 288.22,32.78 288.47,32.85 288.72,32.92 288.97,32.99 289.22,33.07" fill="none" stroke="#00aeef" stroke-width="3.29" stroke-linejoin="round" stroke-linecap="round" />
<polyline points="289.22,33.07 289.47,33.15 289.72,33.24 289.97,33.34 290.22,33.44 290.47,33.53 290.72,33.63 290.97,33.74 291.22,33.85 291.47,34.07 291.72,34.29 291.97,34.52 292.22,34.76 292.47,34.95 292.72,35.1 292.97,35.26 293.22,35.41 293.47,35.57 293.72,35.74 293.97,35.9 294.22,36.06 294.47,36.21 294.72,36.3 294.97,36.36 295.22,36.41 295.47,36.46 295.72,36.56 295.97,36.76 296.22,36.95 296.47,37.13 296.72,37.3 296.97,37.28 297.22,37.25 297.47,37.21 297.72,37.15 297.97,37.17 298.22,37.24" fill="none" stroke="#00aeef" stroke-width="3.55" stroke-linejoin="round" stroke-linecap="round" />
<polyline points="298.22,37.24 298.47,37.3 298.72,37.36 298.97,37.38 299.22,37.28 299.47,37.17 299.72,37.06 299.97,36.95 300.22,37.02 300.47,37.14 300.72,37.28 300.97,37.42 301.22,37.48 301.47,37.41 301.72,37.35 301.97,37.29 302.22,37.25 302.47,37.38 302.72,37.52 302.97,37.68 303.22,37.85 303.47,38.07 303.72,38.31 303.97,38.58 304.22,38.85 304.47,39.1 304.72,39.23 304.97,39.36 305.22,39.49 305.47,39.63 305.72,39.88 305.97,40.16 306.22,40.43 306.47,40.69 306.72,40.86" fill="none" stroke="#00aeef" stroke-width="3.8" stroke-linejoin="round" stroke-linecap="round" />
<polyline points="306.72,40.86 306.97,40.91 307.22,40.94 307.47,40.94 307.72,40.92 307.97,41.05 308.22,41.16 308.47,41.24 308.72,41.31 308.97,41.29 309.22,41.22 309.47,41.13 309.72,41.05 309.97,40.95 310.22,40.86 310.47,40.76 310.72,40.69 310.97,40.62 311.22,40.65 311.47,40.71 311.72,40.8 311.97,40.92 312.22,41.01 312.47,41.07 312.72,41.16 312.97,41.27 313.22,41.41 313.47,41.66 313.72,41.94 313.97,42.23 314.22,42.53 314.47,42.76 314.72,42.94 314.97,43.11" fill="none" stroke="#00aeef" stroke-width="4.05" stroke-linejoin="round" stroke-linecap="round" />
<polyline points="314.97,43.11 315.22,43.26 315.47,43.43 315.72,43.73 315.97,43.99 316.22,44.22 316.47,44.4 316.72,44.34 316.97,44.18 317.22,44 317.47,43.78 317.72,43.57 317.97,43.39 318.22,43.2 318.47,43.03 318.72,42.88 318.97,43.06 319.22,43.28 319.47,43.54 319.72,43.84 319.97,43.98 320.22,44.03 320.47,44.12 320.72,44.25 320.97,44.42 321.22,44.61 321.47,44.83 321.72,45.06 321.97,45.28 322.22,45.49 322.47,45.68 322.72,45.82 322.97,45.9 323.22,46.02 323.47,46.26 323.72,46.42" fill="none" stroke="#00aeef" stroke-width="4.31" stroke-linejoin="round" stroke-linecap="round" />
<polyline points="323.72,46.42 323.97,46.53 324.22,46.6 324.47,46.47 324.72,46.32 324.97,46.18 325.22,46.07 325.47,45.9 325.72,45.71 325.97,45.57 326.22,45.5 326.47,45.53 326.72,45.79 326.97,46.12 327.22,46.5 327.47,46.92 327.72,47.36 327.97,47.81 328.22,48.23 328.47,48.61 328.72,48.9 328.97,49.07 329.22,49.14 329.47,49.11 329.72,48.99 329.97,48.56 330.22,48.1 330.47,47.64 330.72,47.2 330.97,46.98 331.22,46.95 331.47,47 331.72,47.14 331.97,47.35 332.22,47.56 332.47,47.85 332.72,48.2 332.97,48.58 333.22,49.18 333.47,49.78" fill="none" stroke="#00aeef" stroke-width="4.56" stroke-linejoin="round" stroke-linecap="round" />
<polyline points="333.47,49.78 333.72,50.31 333.97,50.72 334.22,50.9 334.47,50.81 334.72,50.61 334.97,50.33 335.22,50.04 335.47,49.71 335.72,49.44 335.97,49.25 336.22,49.17 336.47,49.29 336.72,49.58 336.97,49.98 337.22,50.47 337.47,50.94 337.72,51.13 337.97,51.27 338.22,51.3 338.47,51.17 338.72,51.12 338.97,50.97 339.22,50.7 339.47,50.39 339.72,50.08 339.97,49.82 340.22,49.68 340.47,49.67 340.71,49.81 340.96,50.06 341.2,50.44 341.44,50.9 341.68,51.38 341.92,51.93 342.15,52.51 342.39,52.93 342.62,53.16 342.85,53.22 343.08,52.84 343.31,52.28 343.54,51.73 343.76,51.26 343.99,50.91" fill="none" stroke="#00aeef" stroke-width="4.81" stroke-linejoin="round" stroke-linecap="round" />
<polyline points="343.99,50.91 344.21,50.9 344.43,51.06 344.65,51.37 344.87,51.8 345.09,52.3 345.31,52.84 345.52,53.35 345.74,53.74 345.95,53.96 346.16,53.99 346.37,53.84 346.58,53.56 346.79,53.22 346.99,52.91 347.2,52.67 347.4,52.56 347.61,52.61 347.81,52.8 348.01,53.14 348.21,53.59 348.41,54.12 348.61,54.5 348.8,54.82 349,55.04 349.19,55.09 349.39,54.95 349.58,54.75 349.77,54.67 349.96,54.55 350.15,54.44 350.34,54.4 350.53,54.48 350.71,54.47 350.9,54.38 351.08,54.42 351.27,54.59 351.45,54.83 351.63,55.1 351.81,55.53 351.99,56.04 352.17,56.39 352.35,56.56 352.53,56.55 352.7,56.42 352.88,56.19 353.05,55.89 353.23,55.65 353.4,55.53 353.57,55.55 353.75,55.7 353.92,56 354.09,56.33 354.26,56.74 354.42,57.18 354.59,57.57 354.76,57.86 354.92,57.98 355.09,57.94" fill="none" stroke="#00aeef" stroke-width="5.06" stroke-linejoin="round" stroke-linecap="round" />
<polyline points="355.09,57.94 355.25,57.77 355.42,57.47 355.58,57.13 355.74,56.8 355.91,56.55 356.07,56.41 356.23,56.26 356.39,56.19 356.54,56.26 356.7,56.44 356.86,56.7 357.02,56.98 357.17,57.23 357.33,57.68 357.48,58.1 357.64,58.34 357.79,58.41 357.94,58.37 358.1,58.27 358.25,58.2 358.4,58.03 358.55,57.83 358.7,57.77 358.85,57.84 359,58.05 359.14,58.38 359.29,58.78 359.44,59.2 359.58,59.53 359.73,59.75 359.87,59.81 360.02,59.69 360.16,59.4 360.31,59 360.45,58.55 360.59,58.12 360.73,57.77 360.87,57.53 361.01,57.42 361.15,57.45 361.29,57.61 361.43,57.89 361.57,58.24 361.71,58.69 361.84,59.14 361.98,59.49 362.12,59.68 362.25,59.68 362.39,59.53 362.52,59.26 362.66,58.94 362.79,58.64 362.92,58.41 363.06,58.28 363.19,58.29 363.32,58.44 363.45,58.72 363.58,59.11 363.71,59.58 363.84,60.05 363.97,60.43 364.1,60.71 364.23,60.82 364.36,60.76 364.49,60.54 364.61,60.21 364.74,59.82 364.87,59.46 364.99,59.18 365.12,59.01 365.24,58.98 365.37,59.09 365.49,59.32 365.61,59.67 365.74,60.09 365.86,60.53 365.98,60.93 366.11,61.28 366.23,61.5 366.35,61.54 366.47,61.42 366.59,61.19 366.71,60.91 366.83,60.65 366.95,60.45" fill="none" stroke="#00aeef" stroke-width="5.31" stroke-linejoin="round" stroke-linecap="round" />
<polyline points="366.95,60.45 367.07,60.36 367.19,60.34 367.3,60.39 367.42,60.57 367.54,60.86 367.66,61.22 367.77,61.61 367.89,61.96 368,62.2 368.12,62.3 368.23,62.24 368.35,62.17 368.46,61.99 368.58,61.77 368.69,61.56 368.81,61.41 368.92,61.37 369.03,61.46 369.14,61.68 369.25,62.03 369.37,62.42 369.48,62.78 369.59,63.18 369.7,63.53 369.81,63.78 369.92,63.88 370.03,63.81 370.14,63.59 370.25,63.26 370.36,62.88 370.46,62.51 370.57,62.21 370.68,62.01 370.79,61.94 370.89,61.99 371,62.18 371.11,62.47 371.21,62.83 371.32,63.21 371.42,63.55 371.53,63.8 371.63,64.06 371.74,64.15 371.84,64.09 371.95,63.92 372.05,63.71 372.15,63.51 372.26,63.37 372.36,63.34 372.46,63.42 372.56,63.64 372.67,63.95 372.77,64.32 372.87,64.77 372.97,65.23 373.07,65.66 373.17,65.98 373.27,66.16" fill="none" stroke="#00aeef" stroke-width="5.5" stroke-linejoin="round" stroke-linecap="round" />
</g>
<g clip-path="url(#ci)">
<polyline points="232.72,16.16 232.97,16.22 233.22,16.27 233.47,16.33 233.72,16.38 233.97,16.43 234.22,16.48 234.47,16.53 234.72,16.59 234.97,16.64 235.22,16.69 235.47,16.74 235.72,16.79 235.97,16.84 236.22,16.89 236.47,16.94 236.72,16.99 236.97,17.04 237.22,17.1 237.47,17.15 237.72,17.2 237.97,17.25 238.22,17.31 238.47,17.36 238.72,17.42 238.97,17.47 239.22,17.53 239.47,17.59 239.72,17.65 239.97,17.71 240.22,17.77 240.47,17.83 240.72,17.89 240.97,17.96 241.22,18.03 241.47,18.09 241.72,18.16 241.97,18.24 242.22,18.31 242.47,18.39 242.72,18.46 242.97,18.54 243.22,18.63 243.47,18.71 243.72,18.8 243.97,18.89 244.22,18.98 244.47,19.07 244.72,19.17 244.97,19.27 245.22,19.37 245.47,19.47 245.72,19.58 245.97,19.68 246.22,19.8 246.47,19.91 246.72,20.03 246.97,20.14 247.22,20.26 247.47,20.39 247.72,20.51 247.97,20.64 248.22,20.77 248.47,20.9 248.72,21.03 248.97,21.16 249.22,21.3 249.47,21.44 249.72,21.57 249.97,21.71 250.22,21.85 250.47,21.98 250.72,22.12 250.97,22.26 251.22,22.39 251.47,22.53 251.72,22.66 251.97,22.79 252.22,22.92 252.47,23.05 252.72,23.17 252.97,23.29 253.22,23.4 253.47,23.51 253.72,23.61 253.97,23.71 254.22,23.81 254.47,23.9 254.72,23.98 254.97,24.05 255.22,24.12 255.47,24.19 255.72,24.24 255.97,24.29 256.22,24.33 256.47,24.37 256.72,24.4 256.97,24.43 257.22,24.45 257.47,24.46 257.72,24.47 257.97,24.48 258.22,24.48" fill="none" stroke="#2e3192" stroke-width="2.73" stroke-linejoin="round" stroke-linecap="round" />
<polyline points="258.22,24.48 258.47,24.48 258.72,24.48 258.97,24.47 259.22,24.47 259.47,24.46 259.72,24.46 259.97,24.45 260.22,24.45 260.47,24.45 260.72,24.45 260.97,24.46 261.22,24.47 261.47,24.48 261.72,24.5 261.97,24.53 262.22,24.56 262.47,24.6 262.72,24.65 262.97,24.7 263.22,24.77 263.47,24.84 263.72,24.93 263.97,25.02 264.22,25.12 264.47,25.24 264.72,25.36 264.97,25.49 265.22,25.64 265.47,25.79 265.72,25.96 265.97,26.14 266.22,26.32 266.47,26.52 266.72,26.72 266.97,26.93 267.22,27.15 267.47,27.38 267.72,27.61 267.97,27.84 268.22,28.07 268.47,28.31 268.72,28.54 268.97,28.77 269.22,29 269.47,29.21 269.72,29.41 269.97,29.59 270.22,29.75 270.47,29.9 270.72,30.02 270.97,30.12 271.22,30.2 271.47,30.25 271.72,30.29 271.97,30.31 272.22,30.3 272.47,30.27 272.72,30.22 272.97,30.15 273.22,30.07 273.47,29.97 273.72,29.87 273.97,29.77 274.22,29.66 274.47,29.56" fill="none" stroke="#2e3192" stroke-width="2.98" stroke-linejoin="round" stroke-linecap="round" />
<polyline points="274.47,29.56 274.72,29.47 274.97,29.38 275.22,29.3 275.47,29.24 275.72,29.19 275.97,29.15 276.22,29.13 276.47,29.12 276.72,29.14 276.97,29.19 277.22,29.29 277.47,29.41 277.72,29.57 277.97,29.75 278.22,29.94 278.47,30.15 278.72,30.38 278.97,30.64 279.22,30.92 279.47,31.22 279.72,31.54 279.97,31.86 280.22,32.2 280.47,32.57 280.72,32.93 280.97,33.27 281.22,33.6 281.47,33.88 281.72,34.11 281.97,34.28 282.22,34.41 282.47,34.48 282.72,34.48 282.97,34.42 283.22,34.31 283.47,34.15 283.72,33.98 283.97,33.79 284.22,33.58 284.47,33.36 284.72,33.15 284.97,32.94 285.22,32.75 285.47,32.59 285.72,32.46 285.97,32.33 286.22,32.23 286.47,32.17 286.72,32.17 286.97,32.25 287.22,32.42 287.47,32.64" fill="none" stroke="#2e3192" stroke-width="3.23" stroke-linejoin="round" stroke-linecap="round" />
<polyline points="287.47,32.64 287.72,32.91 287.97,33.21 288.22,33.49 288.47,33.81 288.72,34.17 288.97,34.55 289.22,34.99 289.47,35.44 289.72,35.88 289.97,36.29 290.22,36.69 290.47,37.05 290.72,37.33 290.97,37.52 291.22,37.61 291.47,37.49 291.72,37.28 291.97,37 292.22,36.67 292.47,36.34 292.72,36.03 292.97,35.73 293.22,35.46 293.47,35.22 293.72,35.02 293.97,34.88 294.22,34.81 294.47,34.8 294.72,34.89 294.97,35.06 295.22,35.31 295.47,35.64 295.72,36.01 295.97,36.4 296.22,36.85 296.47,37.33 296.72,37.82" fill="none" stroke="#2e3192" stroke-width="3.48" stroke-linejoin="round" stroke-linecap="round" />
<polyline points="296.72,37.82 296.97,38.44 297.22,39.01 297.47,39.5 297.72,39.86 297.97,39.96 298.22,39.83 298.47,39.55 298.72,39.14 298.97,38.7 299.22,38.4 299.47,38.1 299.72,37.83 299.97,37.62 300.22,37.29 300.47,37.02 300.72,36.84 300.97,36.76 301.22,36.85 301.47,37.14 301.72,37.53 301.97,38.03 302.22,38.62 302.47,39.22 302.72,39.86 302.97,40.48 303.22,41.02 303.47,41.51 303.72,41.86 303.97,41.99 304.22,41.92 304.47,41.65 304.72,41.14" fill="none" stroke="#2e3192" stroke-width="3.74" stroke-linejoin="round" stroke-linecap="round" />
<polyline points="304.72,41.14 304.97,40.59 305.22,40.05 305.47,39.57 305.72,39.18 305.97,38.92 306.22,38.79 306.47,38.81 306.72,39 306.97,39.38 307.22,39.9 307.47,40.54 307.72,41.27 307.97,42.01 308.22,42.7 308.47,43.25 308.72,43.57 308.97,43.68 309.22,43.55 309.47,43.21 309.72,42.73 309.97,42.17 310.22,41.5 310.47,40.93 310.72,40.52 310.97,40.29 311.22,40.43 311.47,40.81 311.72,41.39 311.97,42.14 312.22,43.02 312.47,43.92 312.72,44.79" fill="none" stroke="#2e3192" stroke-width="3.99" stroke-linejoin="round" stroke-linecap="round" />
<polyline points="312.72,44.79 312.97,45.47 313.22,45.85 313.47,45.69 313.72,45.17 313.97,44.43 314.22,43.61 314.47,43.02 314.72,42.7 314.97,42.58 315.22,42.7 315.46,43.02 315.71,43.43 315.95,44.05 316.19,44.85 316.43,45.75 316.67,46.63 316.91,47.34 317.14,47.72 317.37,47.7 317.61,47.3 317.84,46.57 318.06,45.75 318.29,44.98 318.52,44.36 318.74,43.96 318.97,44.02 319.19,44.33 319.41,44.88 319.63,45.65 319.85,46.57 320.06,47.43 320.28,48.27 320.49,48.93 320.71,49.27 320.92,49.2 321.13,48.89" fill="none" stroke="#2e3192" stroke-width="4.25" stroke-linejoin="round" stroke-linecap="round" />
<polyline points="321.13,48.89 321.34,48.32 321.54,47.68 321.75,47.09 321.96,46.64 322.16,46.24 322.37,46 322.57,46.01 322.77,46.25 322.97,46.71 323.17,47.39 323.37,48.28 323.56,49.15 323.76,49.85 323.95,50.23 324.15,50.21 324.34,49.88 324.53,49.35 324.72,48.73 324.91,48.16 325.1,47.74 325.29,47.52 325.47,47.34 325.66,47.36 325.84,47.61 326.03,48.08 326.21,48.71 326.39,49.43 326.57,50.33 326.75,51.11 326.93,51.58 327.11,51.67 327.29,51.41 327.47,50.93 327.64,50.29 327.82,49.65 327.99,49.16 328.16,48.85 328.34,48.77 328.51,48.92 328.68,49.31 328.85,49.95 329.02,50.75 329.19,51.63 329.35,52.48 329.52,53.16 329.69,53.56 329.85,53.41 330.02,52.9 330.18,52.16 330.34,51.35 330.51,50.58 330.67,49.94 330.83,49.51 330.99,49.56 331.15,49.83 331.31,50.31" fill="none" stroke="#2e3192" stroke-width="4.5" stroke-linejoin="round" stroke-linecap="round" />
<polyline points="331.31,50.31 331.47,50.99 331.62,51.82 331.78,52.72 331.94,53.57 332.09,54.04 332.25,54.23 332.4,54.1 332.56,53.65 332.71,53 332.86,52.28 333.01,51.6 333.16,51.19 333.31,50.96 333.46,50.94 333.61,51.13 333.76,51.52 333.91,52.1 334.06,52.81 334.2,53.61 334.35,54.39 334.5,55.02 334.64,55.39 334.78,55.45 334.93,55.23 335.07,54.82 335.21,54.33 335.36,53.84 335.5,53.47 335.64,53.26 335.78,53.25 335.92,53.43 336.06,53.82 336.2,54.37 336.34,55.03 336.47,55.6 336.61,56.14 336.75,56.53 336.88,56.69 337.02,56.55 337.16,56.15 337.29,55.57 337.43,54.93 337.56,54.47 337.69,54.11 337.83,53.91 337.96,53.89 338.09,54.06 338.22,54.42 338.35,54.94 338.48,55.58 338.61,56.25 338.74,56.86 338.87,57.35 339,57.6 339.13,57.59 339.25,57.33 339.38,56.9 339.51,56.4 339.64,55.93 339.76,55.63 339.89,55.47 340.01,55.49 340.14,55.69 340.26,56.06 340.38,56.59 340.51,57.24 340.63,57.93 340.75,58.54 340.88,58.86 341,58.97 341.12,58.82 341.24,58.45 341.36,57.91 341.48,57.3 341.6,56.72 341.72,56.22 341.84,55.89 341.96,55.89 342.07,56.06 342.19,56.4 342.31,56.89 342.43,57.49 342.54,58.13 342.66,58.74 342.78,59.23 342.89,59.52 343.01,59.57 343.12,59.4 343.24,59.08 343.35,58.69 343.46,58.32" fill="none" stroke="#2e3192" stroke-width="4.75" stroke-linejoin="round" stroke-linecap="round" />
<polyline points="343.46,58.32 343.58,58.04 343.69,57.88 343.8,57.88 343.91,58.05 344.03,58.38 344.14,58.74 344.25,59.2 344.36,59.7 344.47,60.17 344.58,60.53 344.69,60.69 344.8,60.63 344.91,60.36 345.02,59.95 345.13,59.47 345.24,59.07 345.34,58.75 345.45,58.56 345.56,58.52 345.67,58.64 345.77,58.92 345.88,59.33 345.98,59.84 346.09,60.39 346.2,60.92 346.3,61.36 346.41,61.64 346.51,61.7 346.61,61.56 346.72,61.28 346.82,60.94 346.93,60.61 347.03,60.35 347.13,60.22 347.23,60.23 347.34,60.39 347.44,60.67 347.54,61.08 347.64,61.59 347.74,62.13 347.84,62.64 347.94,63.05 348.04,63.28 348.14,63.3 348.24,63.13 348.34,62.83 348.44,62.45 348.54,62.01 348.64,61.65 348.74,61.4 348.84,61.29 348.93,61.33 349.03,61.53 349.13,61.84 349.23,62.25 349.32,62.69 349.42,63.11 349.52,63.41 349.61,63.65 349.71,63.7 349.8,63.57 349.9,63.3 349.99,62.97 350.09,62.66 350.18,62.41 350.28,62.28 350.37,62.28 350.46,62.42 350.56,62.71 350.65,63.13 350.74,63.64 350.84,64.19 350.93,64.7 351.02,65.11 351.11,65.37 351.21,65.43 351.3,65.32 351.39,65.09 351.48,64.8 351.57,64.51 351.66,64.29 351.75,64.14 351.84,64.04 351.93,64.09 352.02,64.28 352.11,64.58 352.2,64.97 352.29,65.39 352.38,65.77 352.47,66.06 352.56,66.2 352.65,66.16 352.73,65.95 352.82,65.62 352.91,65.31 353,65.01 353.08,64.78 353.17,64.65 353.26,64.64 353.34,64.78 353.43,65.04 353.52,65.42 353.6,65.88 353.69,66.37 353.77,66.83 353.86,67.19 353.94,67.42 354.03,67.52 354.11,67.46 354.2,67.28 354.28,67.05 354.37,66.82 354.45,66.65 354.54,66.58 354.62,66.64 354.7,66.82 354.79,67.14 354.87,67.56 354.95,68.06 355.03,68.57 355.12,68.95 355.2,69.24 355.28,69.39 355.36,69.38 355.45,69.21 355.53,68.93 355.61,68.59 355.69,68.26 355.77,67.98 355.85,67.81 355.93,67.75 356.01,67.82 356.09,68.01 356.17,68.38 356.25,68.86 356.33,69.38 356.41,69.86 356.49,70.25 356.57,70.5 356.65,70.6 356.73,70.55 356.81,70.39 356.89,70.18 356.96,69.97 357.04,69.82" fill="none" stroke="#2e3192" stroke-width="5" stroke-linejoin="round" stroke-linecap="round" />
<polyline points="357.04,69.82 357.12,69.76 357.2,69.81 357.28,69.89 357.35,70.05 357.43,70.31 357.51,70.64 357.59,71 357.66,71.33 357.74,71.58 357.82,71.69 357.89,71.65 357.97,71.47 358.05,71.18 358.12,70.85 358.2,70.51 358.27,70.23 358.35,70.09 358.42,70.13 358.5,70.3 358.57,70.59 358.65,70.97 358.72,71.42 358.8,71.89 358.87,72.34 358.95,72.7 359.02,72.94 359.09,73.03 359.17,72.98 359.24,72.83 359.32,72.64 359.39,72.44 359.46,72.27 359.53,72.15 359.61,72.15 359.68,72.26 359.75,72.48 359.83,72.8 359.9,73.18 359.97,73.58 360.04,73.96 360.11,74.26 360.19,74.43 360.26,74.47 360.33,74.37 360.4,74.18 360.47,73.94 360.54,73.7 360.61,73.53 360.68,73.43 360.76,73.44 360.83,73.56 360.9,73.79 360.97,74.11 361.04,74.5 361.11,74.9 361.18,75.28 361.25,75.58 361.32,75.77 361.38,75.82 361.45,75.74 361.52,75.57 361.59,75.35 361.66,75.08 361.73,74.8 361.8,74.61 361.87,74.51 361.94,74.53 362,74.64 362.07,74.85 362.14,75.12 362.21,75.41 362.28,75.67 362.34,75.86 362.41,75.94 362.48,75.89 362.55,75.71 362.61,75.45 362.68,75.14 362.75,74.88 362.81,74.76 362.88,74.71 362.95,74.76 363.01,74.92 363.08,75.18 363.14,75.52 363.21,75.92 363.28,76.34 363.34,76.73 363.41,77.06 363.47,77.27 363.54,77.36 363.6,77.33 363.67,77.22 363.73,77.06 363.8,76.9 363.86,76.73 363.93,76.6 363.99,76.56 364.06,76.63 364.12,76.79 364.19,77.04 364.25,77.34 364.32,77.66 364.38,77.96 364.44,78.18 364.51,78.3 364.57,78.31 364.63,78.2 364.7,78 364.76,77.77 364.82,77.53 364.89,77.33 364.95,77.23 365.01,77.25 365.08,77.37 365.14,77.58 365.2,77.87 365.26,78.21 365.33,78.57 365.39,78.91 365.45,79.18 365.51,79.35 365.57,79.4 365.64,79.35 365.7,79.21 365.76,79.03 365.82,78.86 365.88,78.72 365.94,78.65 366,78.67 366.06,78.75 366.13,78.91 366.19,79.15 366.25,79.44 366.31,79.75 366.37,80.03 366.43,80.25 366.49,80.37 366.55,80.38 366.61,80.29 366.67,80.12 366.73,79.9 366.79,79.69 366.85,79.52 366.91,79.41 366.97,79.38 367.03,79.45 367.09,79.61 367.15,79.87 367.21,80.22 367.26,80.59 367.32,80.94 367.38,81.22 367.44,81.41 367.5,81.49 367.56,81.47 367.62,81.37 367.68,81.24 367.73,81.1 367.79,81.01 367.85,80.97 367.91,81.02 367.97,81.16 368.02,81.38 368.08,81.67 368.14,82.01 368.2,82.37 368.25,82.68 368.31,82.91 368.37,83.05 368.43,83.09 368.48,83.04 368.54,82.91 368.6,82.74 368.65,82.57 368.71,82.43 368.77,82.36 368.82,82.36 368.88,82.46 368.94,82.63 368.99,82.88 369.05,83.17 369.11,83.47 369.16,83.75 369.22,83.98 369.27,84.12 369.33,84.15 369.38,84.09 369.44,83.95 369.5,83.77 369.55,83.6 369.61,83.46 369.66,83.38 369.72,83.37 369.77,83.45 369.83,83.61 369.88,83.83 369.94,84.1 369.99,84.38 370.05,84.64 370.1,84.85 370.16,84.97 370.21,84.99 370.26,84.93 370.32,84.8 370.37,84.63 370.43,84.46 370.48,84.31 370.54,84.21 370.59,84.19 370.64,84.25 370.7,84.38 370.75,84.58 370.8,84.83 370.86,85.08 370.91,85.32 370.96,85.5 371.02,85.6 371.07,85.6 371.12,85.53 371.18,85.38 371.23,85.21 371.28,85.03 371.34,84.88 371.39,84.79 371.44,84.77 371.49,84.82 371.55,84.99 371.6,85.27 371.65,85.58 371.7,85.91 371.76,86.22 371.81,86.47 371.86,86.65 371.91,86.74 371.96,86.74 372.02,86.69 372.07,86.6" fill="none" stroke="#2e3192" stroke-width="5.24" stroke-linejoin="round" stroke-linecap="round" />
</g>
<g clip-path="url(#ci)">
<polyline points="232.72,16.79 232.97,16.87 233.22,16.93 233.47,16.98 233.72,17.01 233.97,17.02 234.22,17.02 234.47,17.01 234.72,16.98 234.97,16.95 235.22,16.91 235.47,16.86 235.72,16.81 235.97,16.76 236.22,16.71 236.47,16.67 236.72,16.63 236.97,16.6 237.22,16.59 237.47,16.58 237.72,16.59 237.97,16.61 238.22,16.65 238.47,16.7 238.72,16.77 238.97,16.86 239.22,16.97 239.47,17.09 239.72,17.23 239.97,17.39 240.22,17.56 240.47,17.76 240.72,17.97 240.97,18.2 241.22,18.44 241.47,18.71 241.72,18.99 241.97,19.28 242.22,19.58 242.47,19.9 242.72,20.22 242.97,20.55 243.22,20.89 243.47,21.22 243.72,21.54 243.97,21.86 244.22,22.16 244.47,22.44 244.72,22.69 244.97,22.91 245.22,23.09 245.47,23.23 245.72,23.33 245.97,23.38 246.22,23.38 246.47,23.33 246.72,23.24 246.97,23.11 247.22,22.95 247.47,22.76 247.72,22.54 247.97,22.31 248.22,22.06 248.47,21.81 248.72,21.57 248.97,21.33 249.22,21.1 249.47,20.88 249.72,20.69 249.97,20.51 250.22,20.36 250.47,20.24 250.72,20.15 250.97,20.09 251.22,20.06 251.47,20.07 251.72,20.11 251.97,20.19 252.22,20.31 252.47,20.46 252.72,20.65 252.97,20.88 253.22,21.15 253.47,21.46 253.72,21.8 253.97,22.18 254.22,22.59 254.47,23.03 254.72,23.49 254.97,23.97" fill="none" stroke="#ff0000" stroke-width="2.53" stroke-linejoin="round" stroke-linecap="round" />
<polyline points="254.97,23.97 255.22,24.45 255.47,24.93 255.72,25.4 255.97,25.84 256.22,26.24 256.47,26.57 256.72,26.83 256.97,27.01 257.22,27.1 257.47,27.09 257.72,26.99 257.97,26.81 258.22,26.57 258.47,26.27 258.72,25.94 258.97,25.6 259.22,25.25 259.47,24.91 259.72,24.59 259.97,24.31 260.22,24.06 260.47,23.86 260.72,23.71 260.97,23.62 261.22,23.58 261.47,23.6 261.72,23.68 261.97,23.83 262.22,24.04 262.47,24.32 262.72,24.66 262.97,25.06 263.22,25.51 263.47,26.03 263.72,26.58 263.97,27.18 264.22,27.79 264.47,28.39 264.72,28.97 264.97,29.5 265.22,29.93 265.47,30.25 265.72,30.43 265.97,30.46 266.22,30.35" fill="none" stroke="#ff0000" stroke-width="2.78" stroke-linejoin="round" stroke-linecap="round" />
<polyline points="266.22,30.35 266.47,30.1 266.72,29.76 266.97,29.35 267.22,28.91 267.47,28.46 267.72,28.04 267.97,27.65 268.22,27.33 268.47,27.07 268.72,26.9 268.97,26.81 269.22,26.81 269.47,26.91 269.72,27.1 269.97,27.39 270.22,27.78 270.47,28.25 270.72,28.82 270.97,29.46 271.22,30.15 271.47,30.88 271.72,31.6 271.97,32.27 272.22,32.83 272.47,33.24 272.72,33.44 272.97,33.43 273.22,33.22 273.47,32.84 273.72,32.35 273.97,31.82 274.22,31.29 274.47,30.8 274.72,30.39" fill="none" stroke="#ff0000" stroke-width="3.03" stroke-linejoin="round" stroke-linecap="round" />
<polyline points="274.72,30.39 274.97,30.07 275.22,29.86 275.47,29.77 275.72,29.81 275.97,29.99 276.22,30.29 276.47,30.73 276.72,31.29 276.97,31.96 277.22,32.72 277.47,33.53 277.72,34.34 277.97,35.08 278.22,35.68 278.47,36.04 278.72,36.12 278.97,35.92 279.22,35.5 279.47,34.94 279.72,34.32 279.97,33.73" fill="none" stroke="#ff0000" stroke-width="3.29" stroke-linejoin="round" stroke-linecap="round" />
<polyline points="279.97,33.73 280.22,33.22 280.47,32.87 280.72,32.67 280.97,32.64 281.22,32.78 281.47,33.03 281.72,33.4 281.97,33.95 282.22,34.63 282.47,35.45 282.72,36.37 282.97,37.27 283.22,38.02 283.47,38.51 283.72,38.65 283.97,38.43 284.22,37.93 284.47,37.26" fill="none" stroke="#ff0000" stroke-width="3.55" stroke-linejoin="round" stroke-linecap="round" />
<polyline points="284.47,37.26 284.72,36.6 284.97,36.07 285.22,35.67 285.47,35.46 285.72,35.45 285.97,35.43 286.22,35.63 286.47,36.05 286.72,36.66 286.97,37.53 287.22,38.56 287.47,39.56 287.72,40.38 287.97,40.86 288.22,40.92 288.47,40.58 288.72,39.97" fill="none" stroke="#ff0000" stroke-width="3.8" stroke-linejoin="round" stroke-linecap="round" />
<polyline points="288.72,39.97 288.97,39.26 289.22,38.64 289.47,38.18 289.72,37.93 289.97,37.94 290.21,38.14 290.46,38.47 290.7,39.03 290.94,39.78 291.18,40.64 291.42,41.67 291.66,42.56 291.89,43.13 292.13,43.29 292.36,43.04 292.59,42.44" fill="none" stroke="#ff0000" stroke-width="4.05" stroke-linejoin="round" stroke-linecap="round" />
<polyline points="292.59,42.44 292.82,41.73 293.05,41.08 293.27,40.56 293.5,40.2 293.72,39.98 293.94,40 294.16,40.25 294.38,40.7 294.6,41.41 294.82,42.37 295.03,43.32 295.25,44.12 295.46,44.64 295.67,44.79" fill="none" stroke="#ff0000" stroke-width="4.31" stroke-linejoin="round" stroke-linecap="round" />
<polyline points="295.67,44.79 295.88,44.52 296.09,44.03 296.3,43.45 296.51,42.89 296.71,42.46 296.92,42.13 297.12,42.01 297.32,42.1 297.53,42.4 297.73,42.88 297.93,43.62 298.12,44.53 298.32,45.42 298.52,46.18 298.71,46.69" fill="none" stroke="#ff0000" stroke-width="4.58" stroke-linejoin="round" stroke-linecap="round" />
<polyline points="298.71,46.69 298.9,46.9 299.1,46.65 299.29,46.18 299.48,45.62 299.67,45.08 299.86,44.65 300.05,44.38 300.23,44.4 300.42,44.61 300.6,45.01 300.79,45.58 300.97,46.28 301.15,47 301.33,47.53 301.51,47.93 301.69,48.11 301.87,48.02 302.05,47.68 302.23,47.17 302.4,46.77 302.58,46.39 302.75,46.09 302.93,45.94" fill="none" stroke="#ff0000" stroke-width="4.84" stroke-linejoin="round" stroke-linecap="round" />
<polyline points="302.93,45.94 303.1,45.95 303.27,46.14 303.44,46.54 303.61,47.12 303.78,47.8 303.95,48.54 304.12,49.25 304.28,49.85 304.45,50.25 304.62,50.39 304.78,50.32 304.95,50.09 305.11,49.79 305.27,49.49 305.43,49.27 305.59,49.07 305.75,48.88 305.91,48.86 306.07,48.98 306.23,49.24 306.39,49.59 306.55,49.98 306.7,50.44 306.86,50.89 307.01,51.18 307.17,51.28 307.32,51.2 307.47,50.99 307.63,50.71 307.78,50.47 307.93,50.33 308.08,50.29 308.23,50.38 308.38,50.61 308.53,50.97 308.68,51.44 308.82,51.98 308.97,52.44 309.12,52.87 309.26,53.22 309.41,53.42 309.55,53.48 309.7,53.38 309.84,53.16 309.98,52.92 310.12,52.71 310.27,52.56 310.41,52.48 310.55,52.52 310.69,52.68 310.83,52.95 310.97,53.31 311.1,53.7 311.24,54.08 311.38,54.44 311.52,54.72 311.65,54.89 311.79,54.93 311.92,54.84 312.06,54.66 312.19,54.55 312.33,54.53 312.46,54.55 312.59,54.65 312.73,54.84 312.86,55.13 312.99,55.52 313.12,55.99 313.25,56.44 313.38,56.69 313.51,56.92 313.64,57.09 313.77,57.16 313.9,57.12 314.02,56.97 314.15,56.74 314.28,56.48 314.4,56.38 314.53,56.41 314.66,56.5 314.78,56.67 314.91,56.93 315.03,57.27 315.15,57.69 315.28,58.15 315.4,58.63 315.52,58.87 315.65,59.01 315.77,59.06 315.89,59.02 316.01,58.89 316.13,58.69 316.25,58.45 316.37,58.21 316.49,58 316.61,58.01 316.73,58.16 316.84,58.38 316.96,58.68 317.08,59.05 317.2,59.45 317.31,59.87 317.43,60.26 317.55,60.61 317.66,60.86 317.78,60.98 317.89,61.02 318.01,61 318.12,60.95 318.23,60.89 318.35,60.86 318.46,60.87 318.57,60.95 318.69,61.1 318.8,61.21 318.91,61.34 319.02,61.51 319.13,61.69 319.24,61.85 319.35,61.97 319.46,62.02 319.57,62.01 319.68,61.93 319.79,61.8 319.9,61.8 320.01,61.85 320.12,61.92 320.22,62.03 320.33,62.2 320.44,62.43 320.54,62.71 320.65,63.04 320.76,63.4 320.86,63.77 320.97,64.09 321.07,64.34 321.18,64.54 321.28,64.67 321.39,64.75 321.49,64.79 321.6,64.8 321.7,64.8 321.8,64.83 321.9,64.88 322.01,64.99 322.11,65.1 322.21,65.24 322.31,65.43 322.41,65.64 322.52,65.86 322.62,66.07 322.72,66.25 322.82,66.38 322.92,66.46 323.02,66.49 323.12,66.49 323.22,66.49 323.31,66.49 323.41,66.51 323.51,66.56 323.61,66.65 323.71,66.78 323.81,66.95 323.9,67.16 324,67.39 324.1,67.63 324.19,67.85 324.29,68.07 324.39,68.26 324.48,68.41 324.58,68.52 324.67,68.6 324.77,68.66 324.86,68.71 324.96,68.78 325.05,68.87 325.14,69 325.24,69.16 325.33,69.36 325.43,69.54 325.52,69.73 325.61,69.94 325.7,70.13 325.8,70.3 325.89,70.44 325.98,70.54 326.07,70.61 326.16,70.65 326.25,70.67 326.35,70.69 326.44,70.73 326.53,70.82 326.62,70.94 326.71,71.1 326.8,71.28 326.89,71.49 326.98,71.71 327.07,71.94 327.15,72.16 327.24,72.36 327.33,72.54 327.42,72.68 327.51,72.79 327.6,72.78 327.68,72.74 327.77,72.7 327.86,72.67 327.95,72.65 328.03,72.66 328.12,72.7 328.21,72.77 328.29,72.86 328.38,72.96 328.46,73.07 328.55,73.17 328.64,73.27 328.72,73.47 328.81,73.63 328.89,73.77 328.97,73.89 329.06,74 329.14,74.11 329.23,74.22 329.31,74.35 329.4,74.5 329.48,74.68 329.56,74.88 329.64,75.1 329.73,75.33 329.81,75.58 329.89,75.82 329.98,76.05 330.06,76.26 330.14,76.45 330.22,76.61 330.3,76.75 330.38,76.89 330.47,77.02 330.55,77.16 330.63,77.32 330.71,77.49 330.79,77.69 330.87,77.83 330.95,77.95 331.03,78.08 331.11,78.21 331.19,78.34 331.27,78.45 331.35,78.55 331.43,78.63 331.51,78.69 331.58,78.73 331.66,78.76 331.74,78.79 331.82,78.82 331.9,78.87 331.98,78.99 332.05,79.14 332.13,79.32 332.21,79.5 332.29,79.7 332.36,79.9 332.44,80.1 332.52,80.29 332.59,80.45 332.67,80.61 332.75,80.74 332.82,80.86 332.9,80.97 332.97,81.08 333.05,81.23 333.13,81.45 333.2,81.69 333.28,81.95 333.35,82.22 333.43,82.51 333.5,82.8 333.57,83.1 333.65,83.39 333.72,83.67 333.8,83.94 333.87,84.19 333.95,84.43 334.02,84.65 334.09,84.86 334.17,84.98 334.24,85.04 334.31,85.12 334.39,85.21 334.46,85.31 334.53,85.43 334.6,85.56 334.68,85.7 334.75,85.84 334.82,85.98 334.89,86.11 334.96,86.22 335.04,86.32 335.11,86.41 335.18,86.49 335.25,86.56 335.32,86.65 335.39,86.74 335.46,86.84 335.53,86.95 335.6,87.07 335.67,87.21 335.74,87.36 335.81,87.52 335.88,87.67 335.95,87.83 336.02,87.97 336.09,88.11 336.16,88.23 336.23,88.34 336.3,88.44 336.37,88.61 336.44,88.8 336.51,88.99 336.58,89.2 336.65,89.41 336.71,89.64 336.78,89.88 336.85,90.12 336.92,90.37 336.99,90.62 337.05,90.87 337.12,91.12 337.19,91.35 337.26,91.57 337.32,91.78 337.39,91.98 337.46,92.13 337.52,92.25 337.59,92.36 337.66,92.48 337.72,92.62 337.79,92.76 337.86,92.91 337.92,93.07 337.99,93.23 338.06,93.4 338.12,93.56 338.19,93.71 338.25,93.86 338.32,94 338.38,94.13 338.45,94.25 338.51,94.37 338.58,94.54 338.64,94.73 338.71,94.92 338.77,95.11 338.84,95.32 338.9,95.53 338.97,95.75 339.03,95.98 339.09,96.2 339.16,96.42 339.22,96.64 339.29,96.85 339.35,97.05 339.41,97.24 339.48,97.43 339.54,97.61 339.6,97.79 339.67,97.95 339.73,98.11 339.79,98.27 339.85,98.44 339.92,98.61 339.98,98.79 340.04,98.97 340.1,99.16 340.17,99.34 340.23,99.52 340.29,99.69 340.35,99.86 340.41,100.02 340.48,100.17 340.54,100.33 340.6,100.48 340.66,100.63 340.72,100.79 340.78,100.88 340.84,100.98 340.9,101.09 340.97,101.2 341.03,101.31 341.09,101.42 341.15,101.54 341.21,101.64 341.27,101.75 341.33,101.85 341.39,101.94 341.45,102.03 341.51,102.12 341.57,102.21 341.63,102.3 341.69,102.39 341.75,102.49 341.81,102.59 341.87,102.82 341.93,103.08 341.98,103.34 342.04,103.6 342.1,103.86 342.16,104.12 342.22,104.37 342.28,104.62 342.34,104.87 342.4,105.11 342.45,105.35 342.51,105.59 342.57,105.83 342.63,106.08 342.69,106.32 342.75,106.58 342.8,106.83 342.86,107.09 342.92,107.35 342.98,107.46 343.03,107.56 343.09,107.66 343.15,107.76 343.21,107.86 343.26,107.95 343.32,108.04 343.38,108.13 343.43,108.22 343.49,108.31 343.55,108.4 343.6,108.49 343.66,108.59 343.72,108.69 343.77,108.8 343.83,108.9 343.89,109.01 343.94,109.11 344,109.22 344.05,109.38 344.11,109.59 344.16,109.79 344.22,110 344.28,110.2 344.33,110.4 344.39,110.6 344.44,110.81 344.5,111.01 344.55,111.22 344.61,111.43 344.66,111.65 344.72,111.86 344.77,112.07 344.83,112.28 344.88,112.5 344.94,112.7 344.99,112.91 345.05,113.12 345.1,113.32 345.15,113.48 345.21,113.62 345.26,113.76 345.32,113.9 345.37,114.04 345.42,114.18 345.48,114.33 345.53,114.47 345.58,114.62 345.64,114.76 345.69,114.91 345.74,115.05 345.8,115.2 345.85,115.34 345.9,115.48 345.96,115.62 346.01,115.76 346.06,115.9" fill="none" stroke="#ff0000" stroke-width="4.98" stroke-linejoin="round" stroke-linecap="round" />
</g>
<g font-family="'Liberation Serif', serif" font-size="11.5" fill="#000">
<text x="65.2" y="226.6" text-anchor="middle">1</text>
<text x="150" y="226.6" text-anchor="middle">10</text>
<text x="233.7" y="226.6" text-anchor="middle">100</text>
<text x="317.1" y="226.6" text-anchor="middle">1000</text>
<text x="401.2" y="226.6" text-anchor="middle">10000</text>
<text x="35.6" y="10">10</text>
<path d="M47.4 3.6h5.3" stroke="#000" stroke-width="0.6" fill="none"/>
<text x="53.8" y="6" font-size="8.2">3</text>
<text x="35.6" y="86.2">10</text>
<path d="M47.4 79.8h5.3" stroke="#000" stroke-width="0.6" fill="none"/>
<text x="53.8" y="82.2" font-size="8.2">6</text>
<text x="35.6" y="162.5">10</text>
<path d="M47.4 156.1h5.3" stroke="#000" stroke-width="0.6" fill="none"/>
<text x="53.8" y="158.5" font-size="8.2">9</text>
<text x="232" y="246.1" text-anchor="middle" font-size="11" textLength="68.6" lengthAdjust="spacingAndGlyphs">time/timesteps</text>
<text transform="translate(8.9 109) rotate(-90)" text-anchor="middle" textLength="146.2" lengthAdjust="spacingAndGlyphs">velocity/(lattice units/timestep)</text>
<text x="71.6" y="160.8">η</text>
<path d="M82.3 156.05h7.6M82.3 158.5h7.6" stroke="#000" stroke-width="0.6" fill="none"/>
<text x="93.3" y="160.8">0.032,</text>
<text x="125.6" y="160.8" font-style="italic">L</text>
<path d="M135.4 156.05h7.6M135.4 158.5h7.6" stroke="#000" stroke-width="0.6" fill="none"/>
<text x="146.6" y="160.8">64</text>
<circle cx="170.4" cy="157.8" r="1.1" fill="none" stroke="#ff0000" stroke-width="0.95"/>
<text x="71.6" y="173.8">η</text>
<path d="M82.3 169.05h7.6M82.3 171.5h7.6" stroke="#000" stroke-width="0.6" fill="none"/>
<text x="93.3" y="173.8">0.064,</text>
<text x="125.6" y="173.8" font-style="italic">L</text>
<path d="M135.4 169.05h7.6M135.4 171.5h7.6" stroke="#000" stroke-width="0.6" fill="none"/>
<text x="146.6" y="173.8">64</text>
<circle cx="170.4" cy="170.8" r="1.1" fill="none" stroke="#2e3192" stroke-width="0.95"/>
<text x="71.6" y="186.8">η</text>
<path d="M82.3 182.05h7.6M82.3 184.5h7.6" stroke="#000" stroke-width="0.6" fill="none"/>
<text x="93.3" y="186.8">0.128,</text>
<text x="125.6" y="186.8" font-style="italic">L</text>
<path d="M135.4 182.05h7.6M135.4 184.5h7.6" stroke="#000" stroke-width="0.6" fill="none"/>
<text x="146.6" y="186.8">64</text>
<path d="M169.25 183.8h2.3M170.4 182.65v2.3" stroke="#00aeef" stroke-width="0.95" fill="none"/>
<text x="71.6" y="199.8">η</text>
<path d="M82.3 195.05h7.6M82.3 197.5h7.6" stroke="#000" stroke-width="0.6" fill="none"/>
<text x="93.3" y="199.8">0.256,</text>
<text x="125.6" y="199.8" font-style="italic">L</text>
<path d="M135.4 195.05h7.6M135.4 197.5h7.6" stroke="#000" stroke-width="0.6" fill="none"/>
<text x="146.6" y="199.8">64</text>
<path d="M169.5 195.9l1.8 1.8M169.5 197.7l1.8 -1.8" stroke="#ec008c" stroke-width="1.2" fill="none"/>
<text x="383" y="23.7" text-anchor="end">128</text>
<path d="M354.3 18.95h8.2M354.3 21.4h8.2" stroke="#000" stroke-width="0.6" fill="none"/>
<text x="350.9" y="23.7" font-style="italic" text-anchor="end">L</text>
<path d="M386.95 20.5h2.3M388.1 19.35v2.3" stroke="#00aeef" stroke-width="0.95" fill="none"/>
<text x="383" y="36.55" text-anchor="end">64</text>
<path d="M359.9 31.8h8.2M359.9 34.25h8.2" stroke="#000" stroke-width="0.6" fill="none"/>
<text x="356.5" y="36.55" font-style="italic" text-anchor="end">L</text>
<circle cx="388.1" cy="33.35" r="1.1" fill="none" stroke="#2e3192" stroke-width="0.95"/>
<text x="383" y="49.4" text-anchor="end">32</text>
<path d="M359.9 44.65h8.2M359.9 47.1h8.2" stroke="#000" stroke-width="0.6" fill="none"/>
<text x="356.5" y="49.4" font-style="italic" text-anchor="end">L</text>
<circle cx="388.1" cy="46.2" r="1.1" fill="none" stroke="#ff0000" stroke-width="0.95"/>
</g>
</svg>
</body></html>
